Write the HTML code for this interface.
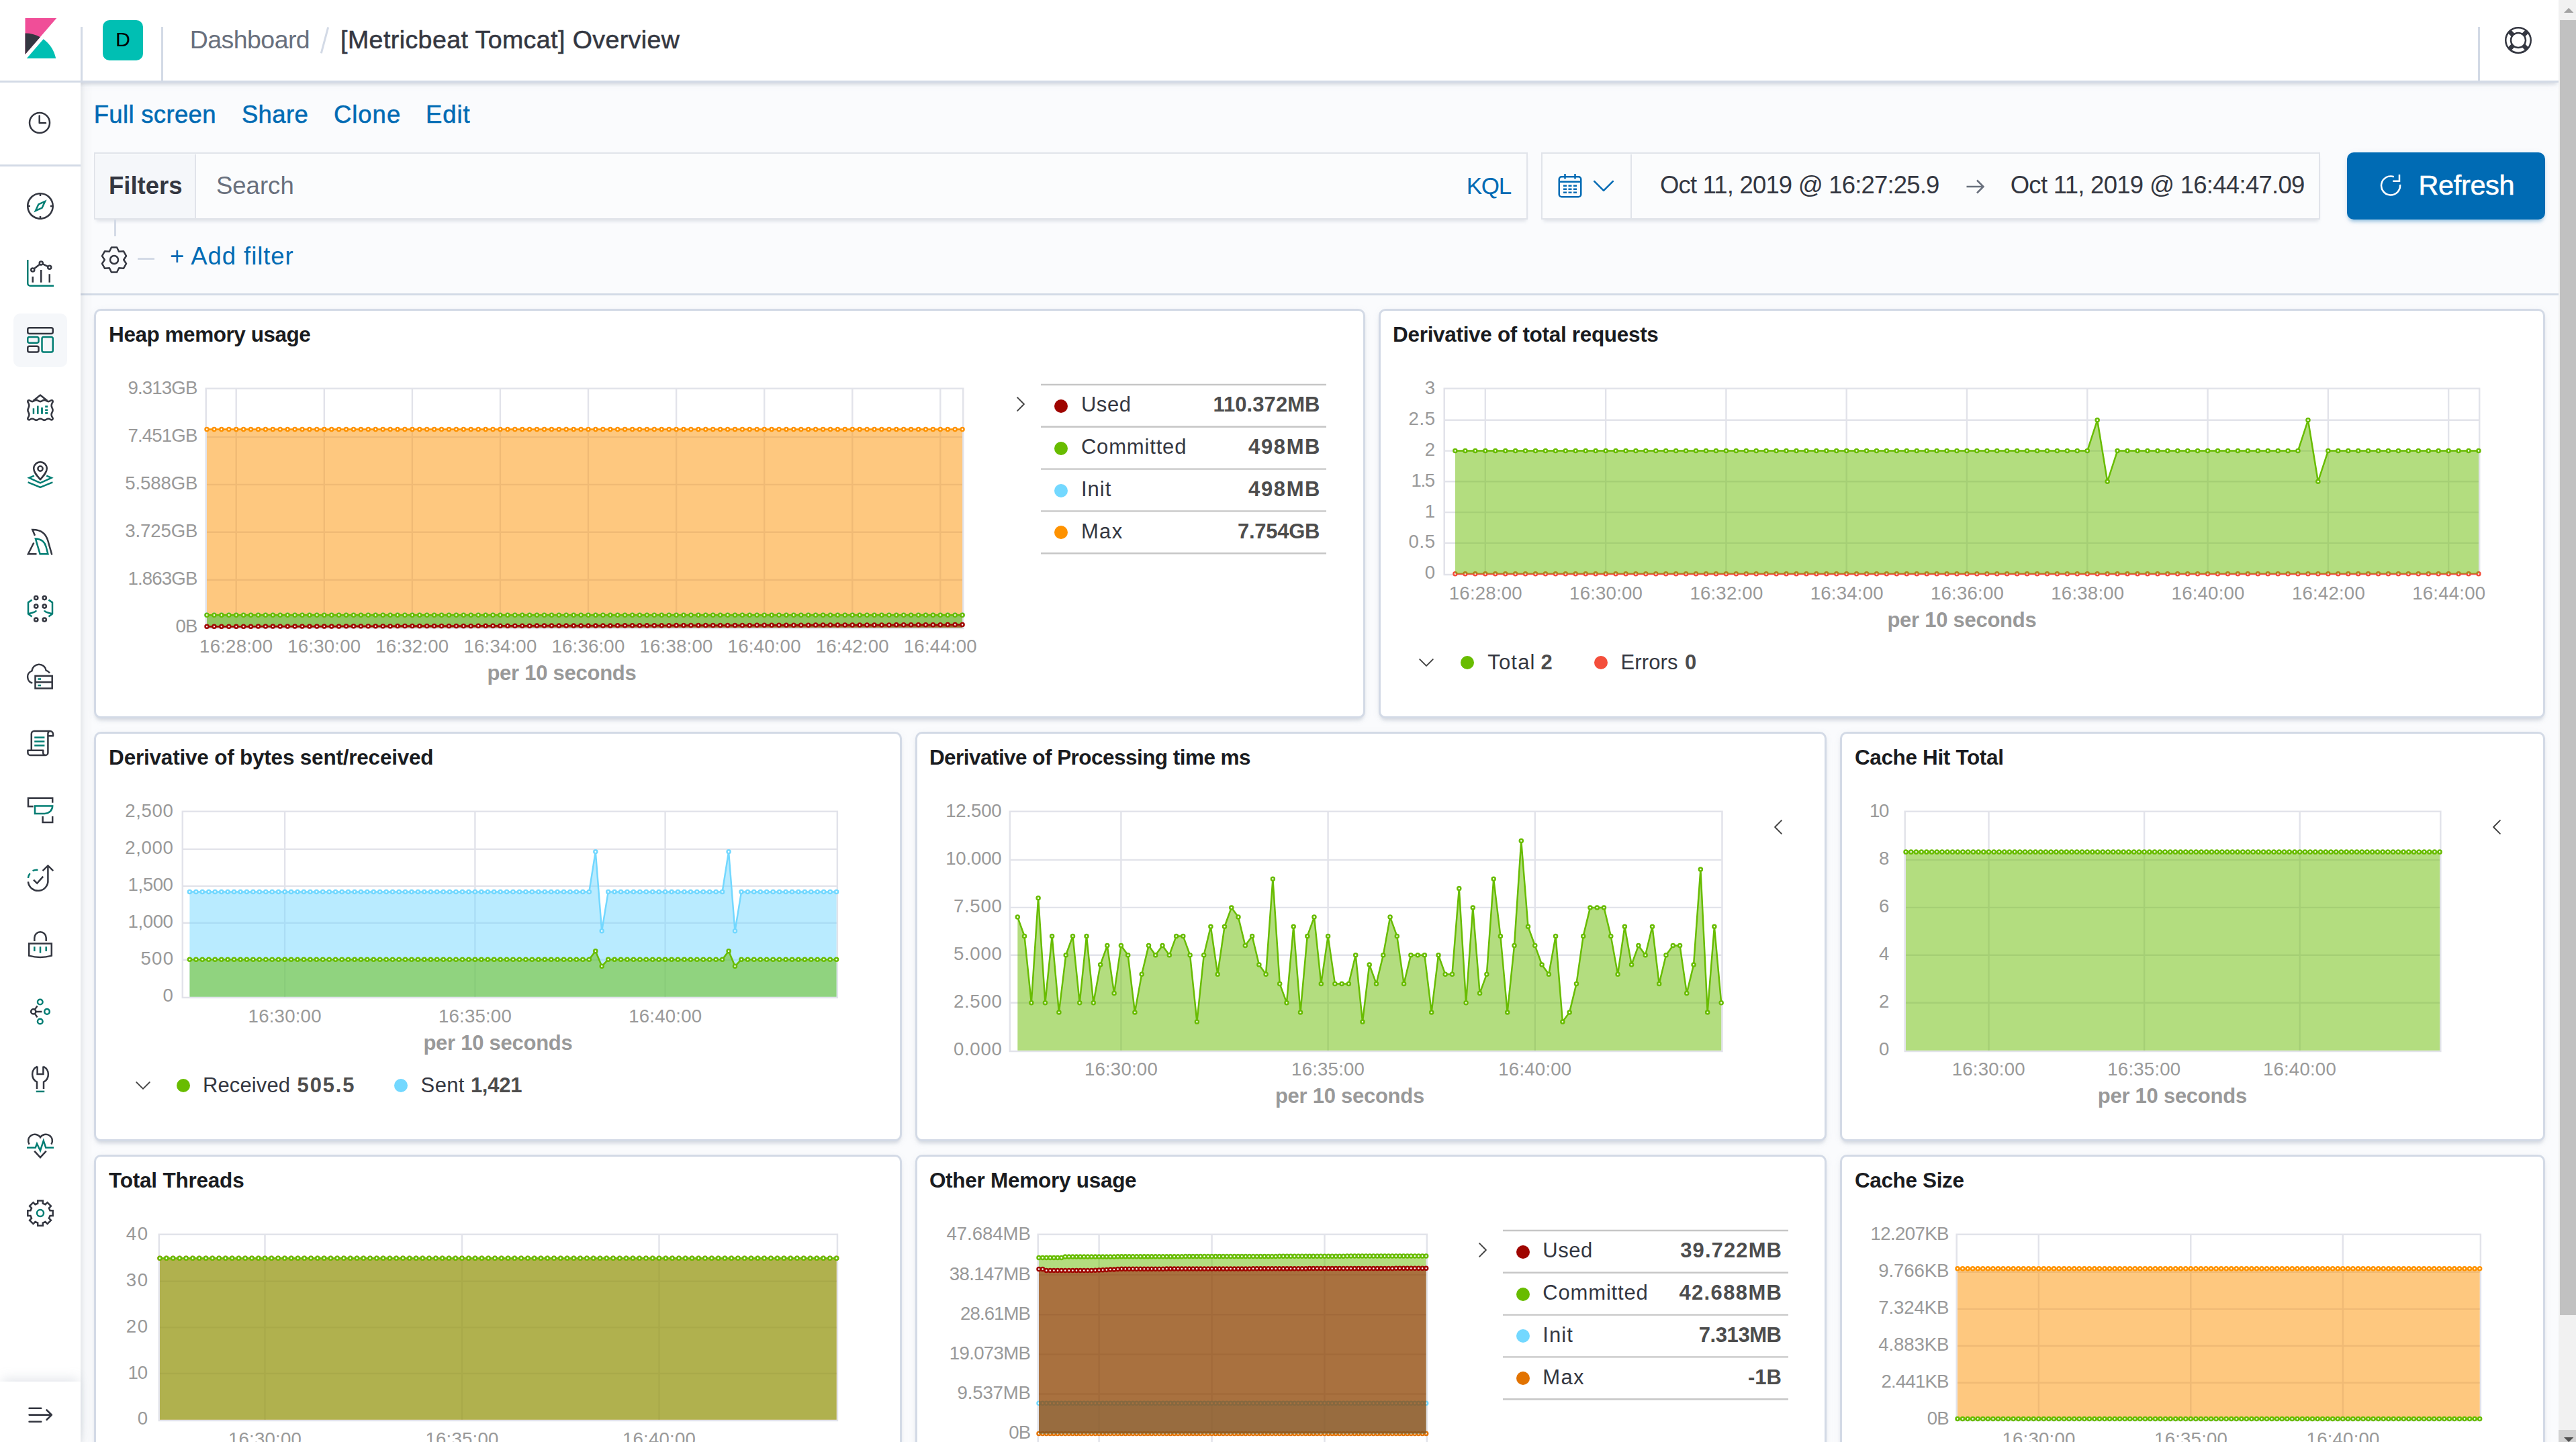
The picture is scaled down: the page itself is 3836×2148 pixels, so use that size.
<!DOCTYPE html><html lang="en"><head><meta charset="utf-8"><title>[Metricbeat Tomcat] Overview - Kibana</title><style>
html,body{margin:0;padding:0}
body{width:3836px;height:2148px;overflow:hidden;background:#fafbfd;font-family:"Liberation Sans",sans-serif;position:relative;color:#343741}
.t{position:absolute;white-space:nowrap;line-height:1;display:block}
.ch{position:absolute;overflow:visible}
.ab{position:absolute;box-sizing:border-box}
.panel{position:absolute;box-sizing:border-box;background:#fff;border:3px solid #d3dae6;border-radius:10px;box-shadow:0 5px 5px -2.5px rgba(152,162,179,.3),0 2.5px 12.5px -5px rgba(152,162,179,.3)}
.hl{position:absolute;background:#c8c8c8;height:2.2px}
.dot{position:absolute;width:20px;height:20px;border-radius:50%}
svg{display:block}
</style></head><body>
<main>
<section class="panel" style="left:140px;top:460px;width:1892.6px;height:610.0px">
<span class="t" style="left:19.1px;top:20.0px;font-size:31.5px;color:#1a1c21;font-weight:700;letter-spacing:-0.46px;">Heap memory usage</span>
<svg class="ch" style="left:156.9px;top:108.7px" width="1141.1" height="370.7" viewBox="299.9 571.7 1141.1 370.7"><defs><marker id="c1m0" markerWidth="10" markerHeight="10" refX="5" refY="5" markerUnits="userSpaceOnUse"><circle cx="5" cy="5" r="2.5" fill="#fff" stroke="#FE9200" stroke-width="2.5"/></marker><marker id="c1m1" markerWidth="10" markerHeight="10" refX="5" refY="5" markerUnits="userSpaceOnUse"><circle cx="5" cy="5" r="2.5" fill="#fff" stroke="#73D8FF" stroke-width="2.5"/></marker><marker id="c1m2" markerWidth="10" markerHeight="10" refX="5" refY="5" markerUnits="userSpaceOnUse"><circle cx="5" cy="5" r="2.5" fill="#fff" stroke="#68BC00" stroke-width="2.5"/></marker><marker id="c1m3" markerWidth="10" markerHeight="10" refX="5" refY="5" markerUnits="userSpaceOnUse"><circle cx="5" cy="5" r="2.5" fill="#fff" stroke="#9F0500" stroke-width="2.5"/></marker></defs><path d="M351.6 578.5V935.6M482.7 578.5V935.6M613.8 578.5V935.6M744.8 578.5V935.6M875.9 578.5V935.6M1007.0 578.5V935.6M1138.1 578.5V935.6M1269.2 578.5V935.6M1400.2 578.5V935.6M306.6 863.4H1434.2M306.6 792.5H1434.2M306.6 721.6H1434.2M306.6 650.6H1434.2" stroke="#e2e3ea" stroke-width="2.4" fill="none"/><rect x="306.6" y="578.5" width="1127.6" height="357.2" fill="none" stroke="#e2e3ea" stroke-width="2.5"/><polygon points="307.9,934.4 307.9,639.1 318.8,639.1 329.7,639.1 340.7,639.1 351.6,639.1 362.5,639.1 373.4,639.1 384.4,639.1 395.3,639.1 406.2,639.1 417.1,639.1 428.1,639.1 439.0,639.1 449.9,639.1 460.8,639.1 471.7,639.1 482.7,639.1 493.6,639.1 504.5,639.1 515.4,639.1 526.4,639.1 537.3,639.1 548.2,639.1 559.1,639.1 570.1,639.1 581.0,639.1 591.9,639.1 602.8,639.1 613.8,639.1 624.7,639.1 635.6,639.1 646.5,639.1 657.4,639.1 668.4,639.1 679.3,639.1 690.2,639.1 701.1,639.1 712.1,639.1 723.0,639.1 733.9,639.1 744.8,639.1 755.8,639.1 766.7,639.1 777.6,639.1 788.5,639.1 799.4,639.1 810.4,639.1 821.3,639.1 832.2,639.1 843.1,639.1 854.1,639.1 865.0,639.1 875.9,639.1 886.8,639.1 897.8,639.1 908.7,639.1 919.6,639.1 930.5,639.1 941.5,639.1 952.4,639.1 963.3,639.1 974.2,639.1 985.1,639.1 996.1,639.1 1007.0,639.1 1017.9,639.1 1028.8,639.1 1039.8,639.1 1050.7,639.1 1061.6,639.1 1072.5,639.1 1083.5,639.1 1094.4,639.1 1105.3,639.1 1116.2,639.1 1127.1,639.1 1138.1,639.1 1149.0,639.1 1159.9,639.1 1170.8,639.1 1181.8,639.1 1192.7,639.1 1203.6,639.1 1214.5,639.1 1225.5,639.1 1236.4,639.1 1247.3,639.1 1258.2,639.1 1269.2,639.1 1280.1,639.1 1291.0,639.1 1301.9,639.1 1312.8,639.1 1323.8,639.1 1334.7,639.1 1345.6,639.1 1356.5,639.1 1367.5,639.1 1378.4,639.1 1389.3,639.1 1400.2,639.1 1411.2,639.1 1422.1,639.1 1433.0,639.1 1433.0,934.4" fill="#FE9200" fill-opacity="0.5"/><polyline points="307.9,639.1 318.8,639.1 329.7,639.1 340.7,639.1 351.6,639.1 362.5,639.1 373.4,639.1 384.4,639.1 395.3,639.1 406.2,639.1 417.1,639.1 428.1,639.1 439.0,639.1 449.9,639.1 460.8,639.1 471.7,639.1 482.7,639.1 493.6,639.1 504.5,639.1 515.4,639.1 526.4,639.1 537.3,639.1 548.2,639.1 559.1,639.1 570.1,639.1 581.0,639.1 591.9,639.1 602.8,639.1 613.8,639.1 624.7,639.1 635.6,639.1 646.5,639.1 657.4,639.1 668.4,639.1 679.3,639.1 690.2,639.1 701.1,639.1 712.1,639.1 723.0,639.1 733.9,639.1 744.8,639.1 755.8,639.1 766.7,639.1 777.6,639.1 788.5,639.1 799.4,639.1 810.4,639.1 821.3,639.1 832.2,639.1 843.1,639.1 854.1,639.1 865.0,639.1 875.9,639.1 886.8,639.1 897.8,639.1 908.7,639.1 919.6,639.1 930.5,639.1 941.5,639.1 952.4,639.1 963.3,639.1 974.2,639.1 985.1,639.1 996.1,639.1 1007.0,639.1 1017.9,639.1 1028.8,639.1 1039.8,639.1 1050.7,639.1 1061.6,639.1 1072.5,639.1 1083.5,639.1 1094.4,639.1 1105.3,639.1 1116.2,639.1 1127.1,639.1 1138.1,639.1 1149.0,639.1 1159.9,639.1 1170.8,639.1 1181.8,639.1 1192.7,639.1 1203.6,639.1 1214.5,639.1 1225.5,639.1 1236.4,639.1 1247.3,639.1 1258.2,639.1 1269.2,639.1 1280.1,639.1 1291.0,639.1 1301.9,639.1 1312.8,639.1 1323.8,639.1 1334.7,639.1 1345.6,639.1 1356.5,639.1 1367.5,639.1 1378.4,639.1 1389.3,639.1 1400.2,639.1 1411.2,639.1 1422.1,639.1 1433.0,639.1" fill="none" stroke="#FE9200" stroke-width="2.5" stroke-linejoin="round" marker-start="url(#c1m0)" marker-mid="url(#c1m0)" marker-end="url(#c1m0)"/><polygon points="307.9,934.4 307.9,915.9 318.8,915.9 329.7,915.9 340.7,915.9 351.6,915.9 362.5,915.9 373.4,915.9 384.4,915.9 395.3,915.9 406.2,915.9 417.1,915.9 428.1,915.9 439.0,915.9 449.9,915.9 460.8,915.9 471.7,915.9 482.7,915.9 493.6,915.9 504.5,915.9 515.4,915.9 526.4,915.9 537.3,915.9 548.2,915.9 559.1,915.9 570.1,915.9 581.0,915.9 591.9,915.9 602.8,915.9 613.8,915.9 624.7,915.9 635.6,915.9 646.5,915.9 657.4,915.9 668.4,915.9 679.3,915.9 690.2,915.9 701.1,915.9 712.1,915.9 723.0,915.9 733.9,915.9 744.8,915.9 755.8,915.9 766.7,915.9 777.6,915.9 788.5,915.9 799.4,915.9 810.4,915.9 821.3,915.9 832.2,915.9 843.1,915.9 854.1,915.9 865.0,915.9 875.9,915.9 886.8,915.9 897.8,915.9 908.7,915.9 919.6,915.9 930.5,915.9 941.5,915.9 952.4,915.9 963.3,915.9 974.2,915.9 985.1,915.9 996.1,915.9 1007.0,915.9 1017.9,915.9 1028.8,915.9 1039.8,915.9 1050.7,915.9 1061.6,915.9 1072.5,915.9 1083.5,915.9 1094.4,915.9 1105.3,915.9 1116.2,915.9 1127.1,915.9 1138.1,915.9 1149.0,915.9 1159.9,915.9 1170.8,915.9 1181.8,915.9 1192.7,915.9 1203.6,915.9 1214.5,915.9 1225.5,915.9 1236.4,915.9 1247.3,915.9 1258.2,915.9 1269.2,915.9 1280.1,915.9 1291.0,915.9 1301.9,915.9 1312.8,915.9 1323.8,915.9 1334.7,915.9 1345.6,915.9 1356.5,915.9 1367.5,915.9 1378.4,915.9 1389.3,915.9 1400.2,915.9 1411.2,915.9 1422.1,915.9 1433.0,915.9 1433.0,934.4" fill="#73D8FF" fill-opacity="0.5"/><polyline points="307.9,915.9 318.8,915.9 329.7,915.9 340.7,915.9 351.6,915.9 362.5,915.9 373.4,915.9 384.4,915.9 395.3,915.9 406.2,915.9 417.1,915.9 428.1,915.9 439.0,915.9 449.9,915.9 460.8,915.9 471.7,915.9 482.7,915.9 493.6,915.9 504.5,915.9 515.4,915.9 526.4,915.9 537.3,915.9 548.2,915.9 559.1,915.9 570.1,915.9 581.0,915.9 591.9,915.9 602.8,915.9 613.8,915.9 624.7,915.9 635.6,915.9 646.5,915.9 657.4,915.9 668.4,915.9 679.3,915.9 690.2,915.9 701.1,915.9 712.1,915.9 723.0,915.9 733.9,915.9 744.8,915.9 755.8,915.9 766.7,915.9 777.6,915.9 788.5,915.9 799.4,915.9 810.4,915.9 821.3,915.9 832.2,915.9 843.1,915.9 854.1,915.9 865.0,915.9 875.9,915.9 886.8,915.9 897.8,915.9 908.7,915.9 919.6,915.9 930.5,915.9 941.5,915.9 952.4,915.9 963.3,915.9 974.2,915.9 985.1,915.9 996.1,915.9 1007.0,915.9 1017.9,915.9 1028.8,915.9 1039.8,915.9 1050.7,915.9 1061.6,915.9 1072.5,915.9 1083.5,915.9 1094.4,915.9 1105.3,915.9 1116.2,915.9 1127.1,915.9 1138.1,915.9 1149.0,915.9 1159.9,915.9 1170.8,915.9 1181.8,915.9 1192.7,915.9 1203.6,915.9 1214.5,915.9 1225.5,915.9 1236.4,915.9 1247.3,915.9 1258.2,915.9 1269.2,915.9 1280.1,915.9 1291.0,915.9 1301.9,915.9 1312.8,915.9 1323.8,915.9 1334.7,915.9 1345.6,915.9 1356.5,915.9 1367.5,915.9 1378.4,915.9 1389.3,915.9 1400.2,915.9 1411.2,915.9 1422.1,915.9 1433.0,915.9" fill="none" stroke="#73D8FF" stroke-width="2.5" stroke-linejoin="round" marker-start="url(#c1m1)" marker-mid="url(#c1m1)" marker-end="url(#c1m1)"/><polygon points="307.9,934.4 307.9,915.9 318.8,915.9 329.7,915.9 340.7,915.9 351.6,915.9 362.5,915.9 373.4,915.9 384.4,915.9 395.3,915.9 406.2,915.9 417.1,915.9 428.1,915.9 439.0,915.9 449.9,915.9 460.8,915.9 471.7,915.9 482.7,915.9 493.6,915.9 504.5,915.9 515.4,915.9 526.4,915.9 537.3,915.9 548.2,915.9 559.1,915.9 570.1,915.9 581.0,915.9 591.9,915.9 602.8,915.9 613.8,915.9 624.7,915.9 635.6,915.9 646.5,915.9 657.4,915.9 668.4,915.9 679.3,915.9 690.2,915.9 701.1,915.9 712.1,915.9 723.0,915.9 733.9,915.9 744.8,915.9 755.8,915.9 766.7,915.9 777.6,915.9 788.5,915.9 799.4,915.9 810.4,915.9 821.3,915.9 832.2,915.9 843.1,915.9 854.1,915.9 865.0,915.9 875.9,915.9 886.8,915.9 897.8,915.9 908.7,915.9 919.6,915.9 930.5,915.9 941.5,915.9 952.4,915.9 963.3,915.9 974.2,915.9 985.1,915.9 996.1,915.9 1007.0,915.9 1017.9,915.9 1028.8,915.9 1039.8,915.9 1050.7,915.9 1061.6,915.9 1072.5,915.9 1083.5,915.9 1094.4,915.9 1105.3,915.9 1116.2,915.9 1127.1,915.9 1138.1,915.9 1149.0,915.9 1159.9,915.9 1170.8,915.9 1181.8,915.9 1192.7,915.9 1203.6,915.9 1214.5,915.9 1225.5,915.9 1236.4,915.9 1247.3,915.9 1258.2,915.9 1269.2,915.9 1280.1,915.9 1291.0,915.9 1301.9,915.9 1312.8,915.9 1323.8,915.9 1334.7,915.9 1345.6,915.9 1356.5,915.9 1367.5,915.9 1378.4,915.9 1389.3,915.9 1400.2,915.9 1411.2,915.9 1422.1,915.9 1433.0,915.9 1433.0,934.4" fill="#68BC00" fill-opacity="0.5"/><polyline points="307.9,915.9 318.8,915.9 329.7,915.9 340.7,915.9 351.6,915.9 362.5,915.9 373.4,915.9 384.4,915.9 395.3,915.9 406.2,915.9 417.1,915.9 428.1,915.9 439.0,915.9 449.9,915.9 460.8,915.9 471.7,915.9 482.7,915.9 493.6,915.9 504.5,915.9 515.4,915.9 526.4,915.9 537.3,915.9 548.2,915.9 559.1,915.9 570.1,915.9 581.0,915.9 591.9,915.9 602.8,915.9 613.8,915.9 624.7,915.9 635.6,915.9 646.5,915.9 657.4,915.9 668.4,915.9 679.3,915.9 690.2,915.9 701.1,915.9 712.1,915.9 723.0,915.9 733.9,915.9 744.8,915.9 755.8,915.9 766.7,915.9 777.6,915.9 788.5,915.9 799.4,915.9 810.4,915.9 821.3,915.9 832.2,915.9 843.1,915.9 854.1,915.9 865.0,915.9 875.9,915.9 886.8,915.9 897.8,915.9 908.7,915.9 919.6,915.9 930.5,915.9 941.5,915.9 952.4,915.9 963.3,915.9 974.2,915.9 985.1,915.9 996.1,915.9 1007.0,915.9 1017.9,915.9 1028.8,915.9 1039.8,915.9 1050.7,915.9 1061.6,915.9 1072.5,915.9 1083.5,915.9 1094.4,915.9 1105.3,915.9 1116.2,915.9 1127.1,915.9 1138.1,915.9 1149.0,915.9 1159.9,915.9 1170.8,915.9 1181.8,915.9 1192.7,915.9 1203.6,915.9 1214.5,915.9 1225.5,915.9 1236.4,915.9 1247.3,915.9 1258.2,915.9 1269.2,915.9 1280.1,915.9 1291.0,915.9 1301.9,915.9 1312.8,915.9 1323.8,915.9 1334.7,915.9 1345.6,915.9 1356.5,915.9 1367.5,915.9 1378.4,915.9 1389.3,915.9 1400.2,915.9 1411.2,915.9 1422.1,915.9 1433.0,915.9" fill="none" stroke="#68BC00" stroke-width="2.5" stroke-linejoin="round" marker-start="url(#c1m2)" marker-mid="url(#c1m2)" marker-end="url(#c1m2)"/><polygon points="307.9,934.4 307.9,933.0 318.8,933.0 329.7,933.0 340.7,932.9 351.6,932.9 362.5,932.9 373.4,932.9 384.4,932.8 395.3,932.8 406.2,932.8 417.1,932.8 428.1,932.7 439.0,932.7 449.9,932.7 460.8,932.7 471.7,932.6 482.7,932.6 493.6,932.6 504.5,932.6 515.4,932.5 526.4,932.5 537.3,932.5 548.2,932.4 559.1,932.4 570.1,932.4 581.0,932.4 591.9,932.3 602.8,932.3 613.8,932.3 624.7,932.3 635.6,932.2 646.5,932.2 657.4,932.2 668.4,932.2 679.3,932.1 690.2,932.1 701.1,932.1 712.1,932.0 723.0,932.0 733.9,932.0 744.8,932.0 755.8,931.9 766.7,931.9 777.6,931.9 788.5,931.9 799.4,931.8 810.4,931.8 821.3,931.8 832.2,931.8 843.1,931.7 854.1,931.7 865.0,931.7 875.9,931.6 886.8,931.6 897.8,931.6 908.7,931.6 919.6,931.5 930.5,931.5 941.5,931.5 952.4,931.5 963.3,931.4 974.2,931.4 985.1,931.4 996.1,931.4 1007.0,931.3 1017.9,931.3 1028.8,931.3 1039.8,931.3 1050.7,931.2 1061.6,931.2 1072.5,931.2 1083.5,931.1 1094.4,931.1 1105.3,931.1 1116.2,931.1 1127.1,931.0 1138.1,931.0 1149.0,931.0 1159.9,931.0 1170.8,930.9 1181.8,930.9 1192.7,930.9 1203.6,930.9 1214.5,930.8 1225.5,930.8 1236.4,930.8 1247.3,930.7 1258.2,930.7 1269.2,930.7 1280.1,930.7 1291.0,930.6 1301.9,930.6 1312.8,930.6 1323.8,930.6 1334.7,930.5 1345.6,930.5 1356.5,930.5 1367.5,930.5 1378.4,930.4 1389.3,930.4 1400.2,930.4 1411.2,930.3 1422.1,930.3 1433.0,930.3 1433.0,934.4" fill="#9F0500" fill-opacity="0.5"/><polyline points="307.9,933.0 318.8,933.0 329.7,933.0 340.7,932.9 351.6,932.9 362.5,932.9 373.4,932.9 384.4,932.8 395.3,932.8 406.2,932.8 417.1,932.8 428.1,932.7 439.0,932.7 449.9,932.7 460.8,932.7 471.7,932.6 482.7,932.6 493.6,932.6 504.5,932.6 515.4,932.5 526.4,932.5 537.3,932.5 548.2,932.4 559.1,932.4 570.1,932.4 581.0,932.4 591.9,932.3 602.8,932.3 613.8,932.3 624.7,932.3 635.6,932.2 646.5,932.2 657.4,932.2 668.4,932.2 679.3,932.1 690.2,932.1 701.1,932.1 712.1,932.0 723.0,932.0 733.9,932.0 744.8,932.0 755.8,931.9 766.7,931.9 777.6,931.9 788.5,931.9 799.4,931.8 810.4,931.8 821.3,931.8 832.2,931.8 843.1,931.7 854.1,931.7 865.0,931.7 875.9,931.6 886.8,931.6 897.8,931.6 908.7,931.6 919.6,931.5 930.5,931.5 941.5,931.5 952.4,931.5 963.3,931.4 974.2,931.4 985.1,931.4 996.1,931.4 1007.0,931.3 1017.9,931.3 1028.8,931.3 1039.8,931.3 1050.7,931.2 1061.6,931.2 1072.5,931.2 1083.5,931.1 1094.4,931.1 1105.3,931.1 1116.2,931.1 1127.1,931.0 1138.1,931.0 1149.0,931.0 1159.9,931.0 1170.8,930.9 1181.8,930.9 1192.7,930.9 1203.6,930.9 1214.5,930.8 1225.5,930.8 1236.4,930.8 1247.3,930.7 1258.2,930.7 1269.2,930.7 1280.1,930.7 1291.0,930.6 1301.9,930.6 1312.8,930.6 1323.8,930.6 1334.7,930.5 1345.6,930.5 1356.5,930.5 1367.5,930.5 1378.4,930.4 1389.3,930.4 1400.2,930.4 1411.2,930.3 1422.1,930.3 1433.0,930.3" fill="none" stroke="#9F0500" stroke-width="2.5" stroke-linejoin="round" marker-start="url(#c1m3)" marker-mid="url(#c1m3)" marker-end="url(#c1m3)"/></svg>
<span class="t" style="left:118.5px;top:456.1px;font-size:27.6px;color:#999;letter-spacing:-0.88px;">0B</span>
<span class="t" style="left:47.6px;top:385.2px;font-size:27.6px;color:#999;letter-spacing:-0.87px;">1.863GB</span>
<span class="t" style="left:43.3px;top:314.3px;font-size:27.6px;color:#999;letter-spacing:-0.14px;">3.725GB</span>
<span class="t" style="left:43.3px;top:243.3px;font-size:27.6px;color:#999;letter-spacing:-0.14px;">5.588GB</span>
<span class="t" style="left:47.6px;top:172.4px;font-size:27.6px;color:#999;letter-spacing:-0.87px;">7.451GB</span>
<span class="t" style="left:47.6px;top:101.4px;font-size:27.6px;color:#999;letter-spacing:-0.87px;">9.313GB</span>
<span class="t" style="left:154.1px;top:486.3px;font-size:27.6px;color:#999;letter-spacing:0.21px;">16:28:00</span>
<span class="t" style="left:285.2px;top:486.3px;font-size:27.6px;color:#999;letter-spacing:0.21px;">16:30:00</span>
<span class="t" style="left:416.3px;top:486.3px;font-size:27.6px;color:#999;letter-spacing:0.21px;">16:32:00</span>
<span class="t" style="left:547.4px;top:486.3px;font-size:27.6px;color:#999;letter-spacing:0.21px;">16:34:00</span>
<span class="t" style="left:678.4px;top:486.3px;font-size:27.6px;color:#999;letter-spacing:0.21px;">16:36:00</span>
<span class="t" style="left:809.5px;top:486.3px;font-size:27.6px;color:#999;letter-spacing:0.21px;">16:38:00</span>
<span class="t" style="left:940.6px;top:486.3px;font-size:27.6px;color:#999;letter-spacing:0.21px;">16:40:00</span>
<span class="t" style="left:1071.7px;top:486.3px;font-size:27.6px;color:#999;letter-spacing:0.21px;">16:42:00</span>
<span class="t" style="left:1202.8px;top:486.3px;font-size:27.6px;color:#999;letter-spacing:0.21px;">16:44:00</span>
<span class="t" style="left:582.4px;top:524.0px;font-size:31px;color:#999;font-weight:700;letter-spacing:-0.26px;">per 10 seconds</span>
<svg class="ch" style="left:1357.0px;top:119.0px" width="40" height="40" viewBox="-20 -20 40 40"><path d="M-4.9 -9.8L4.9 0L-4.9 9.8" fill="none" stroke="#414141" stroke-width="1.9" stroke-linecap="round" stroke-linejoin="round"/></svg>
<svg class="ch" style="left:1407.0px;top:105.9px" width="425.0" height="259.2" viewBox="1550.0 568.9 425.0 259.2"><path d="M1550.0 572.9H1975.0M1550.0 635.7H1975.0M1550.0 698.5H1975.0M1550.0 761.3H1975.0M1550.0 824.1H1975.0" stroke="#c6c6c6" stroke-width="2.4" fill="none"/></svg>
<div class="dot" style="left:1427.0px;top:131.9px;background:#9F0500"></div>
<span class="t" style="left:1466.9px;top:124.3px;font-size:31px;color:#343741;letter-spacing:0.57px;">Used</span>
<span class="t" style="left:1663.4px;top:124.3px;font-size:31px;color:#4d4d4d;font-weight:700;letter-spacing:0.07px;">110.372MB</span>
<div class="dot" style="left:1427.0px;top:194.7px;background:#68BC00"></div>
<span class="t" style="left:1466.9px;top:187.1px;font-size:31px;color:#343741;letter-spacing:0.83px;">Committed</span>
<span class="t" style="left:1716.1px;top:187.1px;font-size:31px;color:#4d4d4d;font-weight:700;letter-spacing:1.61px;">498MB</span>
<div class="dot" style="left:1427.0px;top:257.5px;background:#73D8FF"></div>
<span class="t" style="left:1466.9px;top:249.9px;font-size:31px;color:#343741;letter-spacing:1.04px;">Init</span>
<span class="t" style="left:1716.1px;top:249.9px;font-size:31px;color:#4d4d4d;font-weight:700;letter-spacing:1.61px;">498MB</span>
<div class="dot" style="left:1427.0px;top:320.3px;background:#FE9200"></div>
<span class="t" style="left:1466.9px;top:312.7px;font-size:31px;color:#343741;letter-spacing:1.36px;">Max</span>
<span class="t" style="left:1699.9px;top:312.7px;font-size:31px;color:#4d4d4d;font-weight:700;letter-spacing:-0.25px;">7.754GB</span>
</section>
<section class="panel" style="left:2053.2px;top:460px;width:1737.3px;height:610.0px">
<span class="t" style="left:17.9px;top:20.0px;font-size:31.5px;color:#1a1c21;font-weight:700;letter-spacing:-0.32px;">Derivative of total requests</span>
<svg class="ch" style="left:88.3px;top:108.7px" width="1555.0" height="290.7" viewBox="2144.5 571.7 1555.0 290.7"><defs><marker id="c2m0" markerWidth="10" markerHeight="10" refX="5" refY="5" markerUnits="userSpaceOnUse"><circle cx="5" cy="5" r="2.5" fill="#fff" stroke="#F44E3B" stroke-width="2.5"/></marker><marker id="c2m1" markerWidth="10" markerHeight="10" refX="5" refY="5" markerUnits="userSpaceOnUse"><circle cx="5" cy="5" r="2.5" fill="#fff" stroke="#68BC00" stroke-width="2.5"/></marker></defs><path d="M2212.3 578.5V855.6M2391.6 578.5V855.6M2570.9 578.5V855.6M2750.2 578.5V855.6M2929.5 578.5V855.6M3108.8 578.5V855.6M3288.1 578.5V855.6M3467.4 578.5V855.6M3646.7 578.5V855.6M2151.2 808.6H3692.8M2151.2 762.8H3692.8M2151.2 717.0H3692.8M2151.2 671.3H3692.8M2151.2 625.5H3692.8" stroke="#e2e3ea" stroke-width="2.4" fill="none"/><rect x="2151.2" y="578.5" width="1541.5" height="277.2" fill="none" stroke="#e2e3ea" stroke-width="2.5"/><polygon points="2167.4,854.4 2167.4,854.4 2182.4,854.4 2197.3,854.4 2212.3,854.4 2227.2,854.4 2242.2,854.4 2257.1,854.4 2272.0,854.4 2287.0,854.4 2301.9,854.4 2316.9,854.4 2331.8,854.4 2346.7,854.4 2361.7,854.4 2376.6,854.4 2391.6,854.4 2406.5,854.4 2421.5,854.4 2436.4,854.4 2451.3,854.4 2466.3,854.4 2481.2,854.4 2496.2,854.4 2511.1,854.4 2526.0,854.4 2541.0,854.4 2555.9,854.4 2570.9,854.4 2585.8,854.4 2600.8,854.4 2615.7,854.4 2630.6,854.4 2645.6,854.4 2660.5,854.4 2675.5,854.4 2690.4,854.4 2705.3,854.4 2720.3,854.4 2735.2,854.4 2750.2,854.4 2765.1,854.4 2780.1,854.4 2795.0,854.4 2809.9,854.4 2824.9,854.4 2839.8,854.4 2854.8,854.4 2869.7,854.4 2884.6,854.4 2899.6,854.4 2914.5,854.4 2929.5,854.4 2944.4,854.4 2959.4,854.4 2974.3,854.4 2989.2,854.4 3004.2,854.4 3019.1,854.4 3034.1,854.4 3049.0,854.4 3063.9,854.4 3078.9,854.4 3093.8,854.4 3108.8,854.4 3123.7,854.4 3138.7,854.4 3153.6,854.4 3168.5,854.4 3183.5,854.4 3198.4,854.4 3213.4,854.4 3228.3,854.4 3243.2,854.4 3258.2,854.4 3273.1,854.4 3288.1,854.4 3303.0,854.4 3318.0,854.4 3332.9,854.4 3347.8,854.4 3362.8,854.4 3377.7,854.4 3392.7,854.4 3407.6,854.4 3422.5,854.4 3437.5,854.4 3452.4,854.4 3467.4,854.4 3482.3,854.4 3497.3,854.4 3512.2,854.4 3527.1,854.4 3542.1,854.4 3557.0,854.4 3572.0,854.4 3586.9,854.4 3601.8,854.4 3616.8,854.4 3631.7,854.4 3646.7,854.4 3661.6,854.4 3676.6,854.4 3691.5,854.4 3691.5,854.4" fill="#F44E3B" fill-opacity="0.5"/><polyline points="2167.4,854.4 2182.4,854.4 2197.3,854.4 2212.3,854.4 2227.2,854.4 2242.2,854.4 2257.1,854.4 2272.0,854.4 2287.0,854.4 2301.9,854.4 2316.9,854.4 2331.8,854.4 2346.7,854.4 2361.7,854.4 2376.6,854.4 2391.6,854.4 2406.5,854.4 2421.5,854.4 2436.4,854.4 2451.3,854.4 2466.3,854.4 2481.2,854.4 2496.2,854.4 2511.1,854.4 2526.0,854.4 2541.0,854.4 2555.9,854.4 2570.9,854.4 2585.8,854.4 2600.8,854.4 2615.7,854.4 2630.6,854.4 2645.6,854.4 2660.5,854.4 2675.5,854.4 2690.4,854.4 2705.3,854.4 2720.3,854.4 2735.2,854.4 2750.2,854.4 2765.1,854.4 2780.1,854.4 2795.0,854.4 2809.9,854.4 2824.9,854.4 2839.8,854.4 2854.8,854.4 2869.7,854.4 2884.6,854.4 2899.6,854.4 2914.5,854.4 2929.5,854.4 2944.4,854.4 2959.4,854.4 2974.3,854.4 2989.2,854.4 3004.2,854.4 3019.1,854.4 3034.1,854.4 3049.0,854.4 3063.9,854.4 3078.9,854.4 3093.8,854.4 3108.8,854.4 3123.7,854.4 3138.7,854.4 3153.6,854.4 3168.5,854.4 3183.5,854.4 3198.4,854.4 3213.4,854.4 3228.3,854.4 3243.2,854.4 3258.2,854.4 3273.1,854.4 3288.1,854.4 3303.0,854.4 3318.0,854.4 3332.9,854.4 3347.8,854.4 3362.8,854.4 3377.7,854.4 3392.7,854.4 3407.6,854.4 3422.5,854.4 3437.5,854.4 3452.4,854.4 3467.4,854.4 3482.3,854.4 3497.3,854.4 3512.2,854.4 3527.1,854.4 3542.1,854.4 3557.0,854.4 3572.0,854.4 3586.9,854.4 3601.8,854.4 3616.8,854.4 3631.7,854.4 3646.7,854.4 3661.6,854.4 3676.6,854.4 3691.5,854.4" fill="none" stroke="#F44E3B" stroke-width="2.5" stroke-linejoin="round" marker-start="url(#c2m0)" marker-mid="url(#c2m0)" marker-end="url(#c2m0)"/><polygon points="2167.4,854.4 2167.4,671.3 2182.4,671.3 2197.3,671.3 2212.3,671.3 2227.2,671.3 2242.2,671.3 2257.1,671.3 2272.0,671.3 2287.0,671.3 2301.9,671.3 2316.9,671.3 2331.8,671.3 2346.7,671.3 2361.7,671.3 2376.6,671.3 2391.6,671.3 2406.5,671.3 2421.5,671.3 2436.4,671.3 2451.3,671.3 2466.3,671.3 2481.2,671.3 2496.2,671.3 2511.1,671.3 2526.0,671.3 2541.0,671.3 2555.9,671.3 2570.9,671.3 2585.8,671.3 2600.8,671.3 2615.7,671.3 2630.6,671.3 2645.6,671.3 2660.5,671.3 2675.5,671.3 2690.4,671.3 2705.3,671.3 2720.3,671.3 2735.2,671.3 2750.2,671.3 2765.1,671.3 2780.1,671.3 2795.0,671.3 2809.9,671.3 2824.9,671.3 2839.8,671.3 2854.8,671.3 2869.7,671.3 2884.6,671.3 2899.6,671.3 2914.5,671.3 2929.5,671.3 2944.4,671.3 2959.4,671.3 2974.3,671.3 2989.2,671.3 3004.2,671.3 3019.1,671.3 3034.1,671.3 3049.0,671.3 3063.9,671.3 3078.9,671.3 3093.8,671.3 3108.8,671.3 3123.7,625.5 3138.7,717.0 3153.6,671.3 3168.5,671.3 3183.5,671.3 3198.4,671.3 3213.4,671.3 3228.3,671.3 3243.2,671.3 3258.2,671.3 3273.1,671.3 3288.1,671.3 3303.0,671.3 3318.0,671.3 3332.9,671.3 3347.8,671.3 3362.8,671.3 3377.7,671.3 3392.7,671.3 3407.6,671.3 3422.5,671.3 3437.5,625.5 3452.4,717.0 3467.4,671.3 3482.3,671.3 3497.3,671.3 3512.2,671.3 3527.1,671.3 3542.1,671.3 3557.0,671.3 3572.0,671.3 3586.9,671.3 3601.8,671.3 3616.8,671.3 3631.7,671.3 3646.7,671.3 3661.6,671.3 3676.6,671.3 3691.5,671.3 3691.5,854.4" fill="#68BC00" fill-opacity="0.5"/><polyline points="2167.4,671.3 2182.4,671.3 2197.3,671.3 2212.3,671.3 2227.2,671.3 2242.2,671.3 2257.1,671.3 2272.0,671.3 2287.0,671.3 2301.9,671.3 2316.9,671.3 2331.8,671.3 2346.7,671.3 2361.7,671.3 2376.6,671.3 2391.6,671.3 2406.5,671.3 2421.5,671.3 2436.4,671.3 2451.3,671.3 2466.3,671.3 2481.2,671.3 2496.2,671.3 2511.1,671.3 2526.0,671.3 2541.0,671.3 2555.9,671.3 2570.9,671.3 2585.8,671.3 2600.8,671.3 2615.7,671.3 2630.6,671.3 2645.6,671.3 2660.5,671.3 2675.5,671.3 2690.4,671.3 2705.3,671.3 2720.3,671.3 2735.2,671.3 2750.2,671.3 2765.1,671.3 2780.1,671.3 2795.0,671.3 2809.9,671.3 2824.9,671.3 2839.8,671.3 2854.8,671.3 2869.7,671.3 2884.6,671.3 2899.6,671.3 2914.5,671.3 2929.5,671.3 2944.4,671.3 2959.4,671.3 2974.3,671.3 2989.2,671.3 3004.2,671.3 3019.1,671.3 3034.1,671.3 3049.0,671.3 3063.9,671.3 3078.9,671.3 3093.8,671.3 3108.8,671.3 3123.7,625.5 3138.7,717.0 3153.6,671.3 3168.5,671.3 3183.5,671.3 3198.4,671.3 3213.4,671.3 3228.3,671.3 3243.2,671.3 3258.2,671.3 3273.1,671.3 3288.1,671.3 3303.0,671.3 3318.0,671.3 3332.9,671.3 3347.8,671.3 3362.8,671.3 3377.7,671.3 3392.7,671.3 3407.6,671.3 3422.5,671.3 3437.5,625.5 3452.4,717.0 3467.4,671.3 3482.3,671.3 3497.3,671.3 3512.2,671.3 3527.1,671.3 3542.1,671.3 3557.0,671.3 3572.0,671.3 3586.9,671.3 3601.8,671.3 3616.8,671.3 3631.7,671.3 3646.7,671.3 3661.6,671.3 3676.6,671.3 3691.5,671.3" fill="none" stroke="#68BC00" stroke-width="2.5" stroke-linejoin="round" marker-start="url(#c2m1)" marker-mid="url(#c2m1)" marker-end="url(#c2m1)"/></svg>
<span class="t" style="left:65.6px;top:376.1px;font-size:27.6px;color:#999;">0</span>
<span class="t" style="left:41.4px;top:330.4px;font-size:27.6px;color:#999;letter-spacing:0.58px;">0.5</span>
<span class="t" style="left:65.6px;top:284.6px;font-size:27.6px;color:#999;">1</span>
<span class="t" style="left:45.2px;top:238.8px;font-size:27.6px;color:#999;letter-spacing:-1.30px;">1.5</span>
<span class="t" style="left:65.6px;top:193.0px;font-size:27.6px;color:#999;">2</span>
<span class="t" style="left:41.4px;top:147.2px;font-size:27.6px;color:#999;letter-spacing:0.58px;">2.5</span>
<span class="t" style="left:65.6px;top:101.4px;font-size:27.6px;color:#999;">3</span>
<span class="t" style="left:101.6px;top:407.2px;font-size:27.6px;color:#999;letter-spacing:0.21px;">16:28:00</span>
<span class="t" style="left:280.9px;top:407.2px;font-size:27.6px;color:#999;letter-spacing:0.21px;">16:30:00</span>
<span class="t" style="left:460.2px;top:407.2px;font-size:27.6px;color:#999;letter-spacing:0.21px;">16:32:00</span>
<span class="t" style="left:639.5px;top:407.2px;font-size:27.6px;color:#999;letter-spacing:0.21px;">16:34:00</span>
<span class="t" style="left:818.8px;top:407.2px;font-size:27.6px;color:#999;letter-spacing:0.21px;">16:36:00</span>
<span class="t" style="left:998.1px;top:407.2px;font-size:27.6px;color:#999;letter-spacing:0.21px;">16:38:00</span>
<span class="t" style="left:1177.4px;top:407.2px;font-size:27.6px;color:#999;letter-spacing:0.21px;">16:40:00</span>
<span class="t" style="left:1356.7px;top:407.2px;font-size:27.6px;color:#999;letter-spacing:0.21px;">16:42:00</span>
<span class="t" style="left:1536.0px;top:407.2px;font-size:27.6px;color:#999;letter-spacing:0.21px;">16:44:00</span>
<span class="t" style="left:754.2px;top:444.8px;font-size:31px;color:#999;font-weight:700;letter-spacing:-0.26px;">per 10 seconds</span>
<svg class="ch" style="left:48.3px;top:504.0px" width="40" height="40" viewBox="-20 -20 40 40"><path d="M-9.8 -4.9L0 4.9L9.8 -4.9" fill="none" stroke="#414141" stroke-width="1.9" stroke-linecap="round" stroke-linejoin="round"/></svg>
<div class="dot" style="left:118.5px;top:514.0px;background:#68BC00"></div>
<span class="t" style="left:159.0px;top:507.8px;font-size:31px;color:#343741;letter-spacing:1.20px;">Total</span>
<span class="t" style="left:238.4px;top:507.8px;font-size:31px;color:#4d4d4d;font-weight:700;">2</span>
<div class="dot" style="left:317.8px;top:514.0px;background:#F44E3B"></div>
<span class="t" style="left:357.4px;top:507.8px;font-size:31px;color:#343741;letter-spacing:0.10px;">Errors</span>
<span class="t" style="left:452.9px;top:507.8px;font-size:31px;color:#4d4d4d;font-weight:700;">0</span>
</section>
<section class="panel" style="left:140px;top:1090px;width:1203.0px;height:610.0px">
<span class="t" style="left:19.1px;top:20.0px;font-size:31.5px;color:#1a1c21;font-weight:700;letter-spacing:-0.21px;">Derivative of bytes sent/received</span>
<svg class="ch" style="left:122.0px;top:108.7px" width="988.6" height="290.7" viewBox="265.0 1201.7 988.6 290.7"><defs><marker id="c3m0" markerWidth="10" markerHeight="10" refX="5" refY="5" markerUnits="userSpaceOnUse"><circle cx="5" cy="5" r="2.5" fill="#fff" stroke="#73D8FF" stroke-width="2.5"/></marker><marker id="c3m1" markerWidth="10" markerHeight="10" refX="5" refY="5" markerUnits="userSpaceOnUse"><circle cx="5" cy="5" r="2.5" fill="#fff" stroke="#68BC00" stroke-width="2.5"/></marker></defs><path d="M424.1 1208.5V1485.7M707.4 1208.5V1485.7M990.6 1208.5V1485.7M271.8 1429.5H1246.8M271.8 1374.5H1246.8M271.8 1319.6H1246.8M271.8 1264.6H1246.8" stroke="#e2e3ea" stroke-width="2.4" fill="none"/><rect x="271.8" y="1208.5" width="975.1" height="277.2" fill="none" stroke="#e2e3ea" stroke-width="2.5"/><polygon points="282.4,1484.4 282.4,1328.3 291.9,1328.3 301.3,1328.3 310.8,1328.3 320.2,1328.3 329.7,1328.3 339.1,1328.3 348.5,1328.3 358.0,1328.3 367.4,1328.3 376.9,1328.3 386.3,1328.3 395.8,1328.3 405.2,1328.3 414.6,1328.3 424.1,1328.3 433.5,1328.3 443.0,1328.3 452.4,1328.3 461.9,1328.3 471.3,1328.3 480.7,1328.3 490.2,1328.3 499.6,1328.3 509.1,1328.3 518.5,1328.3 528.0,1328.3 537.4,1328.3 546.8,1328.3 556.3,1328.3 565.7,1328.3 575.2,1328.3 584.6,1328.3 594.1,1328.3 603.5,1328.3 612.9,1328.3 622.4,1328.3 631.8,1328.3 641.3,1328.3 650.7,1328.3 660.2,1328.3 669.6,1328.3 679.0,1328.3 688.5,1328.3 697.9,1328.3 707.4,1328.3 716.8,1328.3 726.3,1328.3 735.7,1328.3 745.1,1328.3 754.6,1328.3 764.0,1328.3 773.5,1328.3 782.9,1328.3 792.3,1328.3 801.8,1328.3 811.2,1328.3 820.7,1328.3 830.1,1328.3 839.6,1328.3 849.0,1328.3 858.4,1328.3 867.9,1328.3 877.3,1328.3 886.8,1268.4 896.2,1386.5 905.7,1328.3 915.1,1328.3 924.5,1328.3 934.0,1328.3 943.4,1328.3 952.9,1328.3 962.3,1328.3 971.8,1328.3 981.2,1328.3 990.6,1328.3 1000.1,1328.3 1009.5,1328.3 1019.0,1328.3 1028.4,1328.3 1037.9,1328.3 1047.3,1328.3 1056.7,1328.3 1066.2,1328.3 1075.6,1328.3 1085.1,1268.4 1094.5,1386.5 1104.0,1328.3 1113.4,1328.3 1122.8,1328.3 1132.3,1328.3 1141.7,1328.3 1151.2,1328.3 1160.6,1328.3 1170.1,1328.3 1179.5,1328.3 1188.9,1328.3 1198.4,1328.3 1207.8,1328.3 1217.3,1328.3 1226.7,1328.3 1236.2,1328.3 1245.6,1328.3 1245.6,1484.4" fill="#73D8FF" fill-opacity="0.5"/><polyline points="282.4,1328.3 291.9,1328.3 301.3,1328.3 310.8,1328.3 320.2,1328.3 329.7,1328.3 339.1,1328.3 348.5,1328.3 358.0,1328.3 367.4,1328.3 376.9,1328.3 386.3,1328.3 395.8,1328.3 405.2,1328.3 414.6,1328.3 424.1,1328.3 433.5,1328.3 443.0,1328.3 452.4,1328.3 461.9,1328.3 471.3,1328.3 480.7,1328.3 490.2,1328.3 499.6,1328.3 509.1,1328.3 518.5,1328.3 528.0,1328.3 537.4,1328.3 546.8,1328.3 556.3,1328.3 565.7,1328.3 575.2,1328.3 584.6,1328.3 594.1,1328.3 603.5,1328.3 612.9,1328.3 622.4,1328.3 631.8,1328.3 641.3,1328.3 650.7,1328.3 660.2,1328.3 669.6,1328.3 679.0,1328.3 688.5,1328.3 697.9,1328.3 707.4,1328.3 716.8,1328.3 726.3,1328.3 735.7,1328.3 745.1,1328.3 754.6,1328.3 764.0,1328.3 773.5,1328.3 782.9,1328.3 792.3,1328.3 801.8,1328.3 811.2,1328.3 820.7,1328.3 830.1,1328.3 839.6,1328.3 849.0,1328.3 858.4,1328.3 867.9,1328.3 877.3,1328.3 886.8,1268.4 896.2,1386.5 905.7,1328.3 915.1,1328.3 924.5,1328.3 934.0,1328.3 943.4,1328.3 952.9,1328.3 962.3,1328.3 971.8,1328.3 981.2,1328.3 990.6,1328.3 1000.1,1328.3 1009.5,1328.3 1019.0,1328.3 1028.4,1328.3 1037.9,1328.3 1047.3,1328.3 1056.7,1328.3 1066.2,1328.3 1075.6,1328.3 1085.1,1268.4 1094.5,1386.5 1104.0,1328.3 1113.4,1328.3 1122.8,1328.3 1132.3,1328.3 1141.7,1328.3 1151.2,1328.3 1160.6,1328.3 1170.1,1328.3 1179.5,1328.3 1188.9,1328.3 1198.4,1328.3 1207.8,1328.3 1217.3,1328.3 1226.7,1328.3 1236.2,1328.3 1245.6,1328.3" fill="none" stroke="#73D8FF" stroke-width="2.5" stroke-linejoin="round" marker-start="url(#c3m0)" marker-mid="url(#c3m0)" marker-end="url(#c3m0)"/><polygon points="282.4,1484.4 282.4,1428.9 291.9,1428.9 301.3,1428.9 310.8,1428.9 320.2,1428.9 329.7,1428.9 339.1,1428.9 348.5,1428.9 358.0,1428.9 367.4,1428.9 376.9,1428.9 386.3,1428.9 395.8,1428.9 405.2,1428.9 414.6,1428.9 424.1,1428.9 433.5,1428.9 443.0,1428.9 452.4,1428.9 461.9,1428.9 471.3,1428.9 480.7,1428.9 490.2,1428.9 499.6,1428.9 509.1,1428.9 518.5,1428.9 528.0,1428.9 537.4,1428.9 546.8,1428.9 556.3,1428.9 565.7,1428.9 575.2,1428.9 584.6,1428.9 594.1,1428.9 603.5,1428.9 612.9,1428.9 622.4,1428.9 631.8,1428.9 641.3,1428.9 650.7,1428.9 660.2,1428.9 669.6,1428.9 679.0,1428.9 688.5,1428.9 697.9,1428.9 707.4,1428.9 716.8,1428.9 726.3,1428.9 735.7,1428.9 745.1,1428.9 754.6,1428.9 764.0,1428.9 773.5,1428.9 782.9,1428.9 792.3,1428.9 801.8,1428.9 811.2,1428.9 820.7,1428.9 830.1,1428.9 839.6,1428.9 849.0,1428.9 858.4,1428.9 867.9,1428.9 877.3,1428.9 886.8,1416.5 896.2,1439.0 905.7,1428.9 915.1,1428.9 924.5,1428.9 934.0,1428.9 943.4,1428.9 952.9,1428.9 962.3,1428.9 971.8,1428.9 981.2,1428.9 990.6,1428.9 1000.1,1428.9 1009.5,1428.9 1019.0,1428.9 1028.4,1428.9 1037.9,1428.9 1047.3,1428.9 1056.7,1428.9 1066.2,1428.9 1075.6,1428.9 1085.1,1416.5 1094.5,1439.0 1104.0,1428.9 1113.4,1428.9 1122.8,1428.9 1132.3,1428.9 1141.7,1428.9 1151.2,1428.9 1160.6,1428.9 1170.1,1428.9 1179.5,1428.9 1188.9,1428.9 1198.4,1428.9 1207.8,1428.9 1217.3,1428.9 1226.7,1428.9 1236.2,1428.9 1245.6,1428.9 1245.6,1484.4" fill="#68BC00" fill-opacity="0.5"/><polyline points="282.4,1428.9 291.9,1428.9 301.3,1428.9 310.8,1428.9 320.2,1428.9 329.7,1428.9 339.1,1428.9 348.5,1428.9 358.0,1428.9 367.4,1428.9 376.9,1428.9 386.3,1428.9 395.8,1428.9 405.2,1428.9 414.6,1428.9 424.1,1428.9 433.5,1428.9 443.0,1428.9 452.4,1428.9 461.9,1428.9 471.3,1428.9 480.7,1428.9 490.2,1428.9 499.6,1428.9 509.1,1428.9 518.5,1428.9 528.0,1428.9 537.4,1428.9 546.8,1428.9 556.3,1428.9 565.7,1428.9 575.2,1428.9 584.6,1428.9 594.1,1428.9 603.5,1428.9 612.9,1428.9 622.4,1428.9 631.8,1428.9 641.3,1428.9 650.7,1428.9 660.2,1428.9 669.6,1428.9 679.0,1428.9 688.5,1428.9 697.9,1428.9 707.4,1428.9 716.8,1428.9 726.3,1428.9 735.7,1428.9 745.1,1428.9 754.6,1428.9 764.0,1428.9 773.5,1428.9 782.9,1428.9 792.3,1428.9 801.8,1428.9 811.2,1428.9 820.7,1428.9 830.1,1428.9 839.6,1428.9 849.0,1428.9 858.4,1428.9 867.9,1428.9 877.3,1428.9 886.8,1416.5 896.2,1439.0 905.7,1428.9 915.1,1428.9 924.5,1428.9 934.0,1428.9 943.4,1428.9 952.9,1428.9 962.3,1428.9 971.8,1428.9 981.2,1428.9 990.6,1428.9 1000.1,1428.9 1009.5,1428.9 1019.0,1428.9 1028.4,1428.9 1037.9,1428.9 1047.3,1428.9 1056.7,1428.9 1066.2,1428.9 1075.6,1428.9 1085.1,1416.5 1094.5,1439.0 1104.0,1428.9 1113.4,1428.9 1122.8,1428.9 1132.3,1428.9 1141.7,1428.9 1151.2,1428.9 1160.6,1428.9 1170.1,1428.9 1179.5,1428.9 1188.9,1428.9 1198.4,1428.9 1207.8,1428.9 1217.3,1428.9 1226.7,1428.9 1236.2,1428.9 1245.6,1428.9" fill="none" stroke="#68BC00" stroke-width="2.5" stroke-linejoin="round" marker-start="url(#c3m1)" marker-mid="url(#c3m1)" marker-end="url(#c3m1)"/></svg>
<span class="t" style="left:99.6px;top:376.1px;font-size:27.6px;color:#999;">0</span>
<span class="t" style="left:66.6px;top:321.2px;font-size:27.6px;color:#999;letter-spacing:1.17px;">500</span>
<span class="t" style="left:47.5px;top:266.3px;font-size:27.6px;color:#999;letter-spacing:-0.41px;">1,000</span>
<span class="t" style="left:47.5px;top:211.3px;font-size:27.6px;color:#999;letter-spacing:-0.41px;">1,500</span>
<span class="t" style="left:43.2px;top:156.4px;font-size:27.6px;color:#999;letter-spacing:0.68px;">2,000</span>
<span class="t" style="left:43.2px;top:101.4px;font-size:27.6px;color:#999;letter-spacing:0.68px;">2,500</span>
<span class="t" style="left:226.6px;top:407.2px;font-size:27.6px;color:#999;letter-spacing:0.21px;">16:30:00</span>
<span class="t" style="left:509.9px;top:407.2px;font-size:27.6px;color:#999;letter-spacing:0.21px;">16:35:00</span>
<span class="t" style="left:793.2px;top:407.2px;font-size:27.6px;color:#999;letter-spacing:0.21px;">16:40:00</span>
<span class="t" style="left:487.4px;top:444.8px;font-size:31px;color:#999;font-weight:700;letter-spacing:-0.26px;">per 10 seconds</span>
<svg class="ch" style="left:50.0px;top:504.0px" width="40" height="40" viewBox="-20 -20 40 40"><path d="M-9.8 -4.9L0 4.9L9.8 -4.9" fill="none" stroke="#414141" stroke-width="1.9" stroke-linecap="round" stroke-linejoin="round"/></svg>
<div class="dot" style="left:120.0px;top:514.0px;background:#68BC00"></div>
<span class="t" style="left:158.9px;top:507.8px;font-size:31px;color:#343741;letter-spacing:0.14px;">Received</span>
<span class="t" style="left:299.6px;top:507.8px;font-size:31px;color:#4d4d4d;font-weight:700;letter-spacing:1.83px;">505.5</span>
<div class="dot" style="left:444.0px;top:514.0px;background:#73D8FF"></div>
<span class="t" style="left:483.6px;top:507.8px;font-size:31px;color:#343741;letter-spacing:0.37px;">Sent</span>
<span class="t" style="left:557.9px;top:507.8px;font-size:31px;color:#4d4d4d;font-weight:700;letter-spacing:-0.27px;">1,421</span>
</section>
<section class="panel" style="left:1363.2px;top:1090px;width:1356.8px;height:610.0px">
<span class="t" style="left:17.7px;top:20.0px;font-size:31.5px;color:#1a1c21;font-weight:700;letter-spacing:-0.54px;">Derivative of Processing time ms</span>
<svg class="ch" style="left:130.8px;top:108.7px" width="1074.2" height="370.7" viewBox="1497.0 1201.7 1074.2 370.7"><defs><marker id="c4m0" markerWidth="10" markerHeight="10" refX="5" refY="5" markerUnits="userSpaceOnUse"><circle cx="5" cy="5" r="2.5" fill="#fff" stroke="#68BC00" stroke-width="2.5"/></marker></defs><path d="M1669.4 1208.5V1565.7M1977.6 1208.5V1565.7M2285.8 1208.5V1565.7M1503.8 1493.5H2564.4M1503.8 1422.5H2564.4M1503.8 1351.6H2564.4M1503.8 1280.6H2564.4" stroke="#e2e3ea" stroke-width="2.4" fill="none"/><rect x="1503.8" y="1208.5" width="1060.7" height="357.2" fill="none" stroke="#e2e3ea" stroke-width="2.5"/><polygon points="1515.3,1564.4 1515.3,1365.8 1525.5,1394.1 1535.8,1493.5 1546.1,1337.4 1556.4,1493.5 1566.6,1394.1 1576.9,1507.6 1587.2,1422.5 1597.5,1394.1 1607.7,1493.5 1618.0,1394.1 1628.3,1493.5 1638.6,1436.7 1648.8,1408.3 1659.1,1479.3 1669.4,1408.3 1679.7,1422.5 1689.9,1507.6 1700.2,1450.9 1710.5,1408.3 1720.7,1422.5 1731.0,1408.3 1741.3,1422.5 1751.6,1394.1 1761.8,1394.1 1772.1,1422.5 1782.4,1521.8 1792.7,1422.5 1802.9,1380.0 1813.2,1450.9 1823.5,1380.0 1833.8,1351.6 1844.0,1365.8 1854.3,1408.3 1864.6,1394.1 1874.9,1436.7 1885.1,1450.9 1895.4,1309.0 1905.7,1465.1 1916.0,1493.5 1926.2,1380.0 1936.5,1507.6 1946.8,1394.1 1957.0,1365.8 1967.3,1465.1 1977.6,1394.1 1987.9,1465.1 1998.1,1465.1 2008.4,1465.1 2018.7,1422.5 2029.0,1521.8 2039.2,1436.7 2049.5,1465.1 2059.8,1422.5 2070.1,1365.8 2080.3,1394.1 2090.6,1465.1 2100.9,1422.5 2111.2,1422.5 2121.4,1422.5 2131.7,1507.6 2142.0,1422.5 2152.2,1450.9 2162.5,1450.9 2172.8,1323.2 2183.1,1493.5 2193.3,1351.6 2203.6,1479.3 2213.9,1450.9 2224.2,1309.0 2234.4,1394.1 2244.7,1507.6 2255.0,1408.3 2265.3,1252.3 2275.5,1380.0 2285.8,1408.3 2296.1,1436.7 2306.4,1450.9 2316.6,1394.1 2326.9,1521.8 2337.2,1507.6 2347.5,1465.1 2357.7,1394.1 2368.0,1351.6 2378.3,1351.6 2388.5,1351.6 2398.8,1394.1 2409.1,1450.9 2419.4,1380.0 2429.6,1436.7 2439.9,1408.3 2450.2,1422.5 2460.5,1380.0 2470.7,1465.1 2481.0,1422.5 2491.3,1408.3 2501.6,1408.3 2511.8,1479.3 2522.1,1436.7 2532.4,1294.8 2542.7,1507.6 2552.9,1380.0 2563.2,1493.5 2563.2,1564.4" fill="#68BC00" fill-opacity="0.5"/><polyline points="1515.3,1365.8 1525.5,1394.1 1535.8,1493.5 1546.1,1337.4 1556.4,1493.5 1566.6,1394.1 1576.9,1507.6 1587.2,1422.5 1597.5,1394.1 1607.7,1493.5 1618.0,1394.1 1628.3,1493.5 1638.6,1436.7 1648.8,1408.3 1659.1,1479.3 1669.4,1408.3 1679.7,1422.5 1689.9,1507.6 1700.2,1450.9 1710.5,1408.3 1720.7,1422.5 1731.0,1408.3 1741.3,1422.5 1751.6,1394.1 1761.8,1394.1 1772.1,1422.5 1782.4,1521.8 1792.7,1422.5 1802.9,1380.0 1813.2,1450.9 1823.5,1380.0 1833.8,1351.6 1844.0,1365.8 1854.3,1408.3 1864.6,1394.1 1874.9,1436.7 1885.1,1450.9 1895.4,1309.0 1905.7,1465.1 1916.0,1493.5 1926.2,1380.0 1936.5,1507.6 1946.8,1394.1 1957.0,1365.8 1967.3,1465.1 1977.6,1394.1 1987.9,1465.1 1998.1,1465.1 2008.4,1465.1 2018.7,1422.5 2029.0,1521.8 2039.2,1436.7 2049.5,1465.1 2059.8,1422.5 2070.1,1365.8 2080.3,1394.1 2090.6,1465.1 2100.9,1422.5 2111.2,1422.5 2121.4,1422.5 2131.7,1507.6 2142.0,1422.5 2152.2,1450.9 2162.5,1450.9 2172.8,1323.2 2183.1,1493.5 2193.3,1351.6 2203.6,1479.3 2213.9,1450.9 2224.2,1309.0 2234.4,1394.1 2244.7,1507.6 2255.0,1408.3 2265.3,1252.3 2275.5,1380.0 2285.8,1408.3 2296.1,1436.7 2306.4,1450.9 2316.6,1394.1 2326.9,1521.8 2337.2,1507.6 2347.5,1465.1 2357.7,1394.1 2368.0,1351.6 2378.3,1351.6 2388.5,1351.6 2398.8,1394.1 2409.1,1450.9 2419.4,1380.0 2429.6,1436.7 2439.9,1408.3 2450.2,1422.5 2460.5,1380.0 2470.7,1465.1 2481.0,1422.5 2491.3,1408.3 2501.6,1408.3 2511.8,1479.3 2522.1,1436.7 2532.4,1294.8 2542.7,1507.6 2552.9,1380.0 2563.2,1493.5" fill="none" stroke="#68BC00" stroke-width="2.5" stroke-linejoin="round" marker-start="url(#c4m0)" marker-mid="url(#c4m0)" marker-end="url(#c4m0)"/></svg>
<span class="t" style="left:53.8px;top:456.1px;font-size:27.6px;color:#999;letter-spacing:0.68px;">0.000</span>
<span class="t" style="left:53.8px;top:385.2px;font-size:27.6px;color:#999;letter-spacing:0.68px;">2.500</span>
<span class="t" style="left:53.8px;top:314.3px;font-size:27.6px;color:#999;letter-spacing:0.68px;">5.000</span>
<span class="t" style="left:53.8px;top:243.3px;font-size:27.6px;color:#999;letter-spacing:0.68px;">7.500</span>
<span class="t" style="left:42.0px;top:172.4px;font-size:27.6px;color:#999;letter-spacing:-0.18px;">10.000</span>
<span class="t" style="left:42.0px;top:101.4px;font-size:27.6px;color:#999;letter-spacing:-0.18px;">12.500</span>
<span class="t" style="left:248.7px;top:486.3px;font-size:27.6px;color:#999;letter-spacing:0.21px;">16:30:00</span>
<span class="t" style="left:556.9px;top:486.3px;font-size:27.6px;color:#999;letter-spacing:0.21px;">16:35:00</span>
<span class="t" style="left:865.1px;top:486.3px;font-size:27.6px;color:#999;letter-spacing:0.21px;">16:40:00</span>
<span class="t" style="left:532.7px;top:524.0px;font-size:31px;color:#999;font-weight:700;letter-spacing:-0.26px;">per 10 seconds</span>
<svg class="ch" style="left:1262.1px;top:119.0px" width="40" height="40" viewBox="-20 -20 40 40"><path d="M4.9 -9.8L-4.9 0L4.9 9.8" fill="none" stroke="#414141" stroke-width="1.9" stroke-linecap="round" stroke-linejoin="round"/></svg>
</section>
<section class="panel" style="left:2740.2px;top:1090px;width:1050.3px;height:610.0px">
<span class="t" style="left:18.7px;top:20.0px;font-size:31.5px;color:#1a1c21;font-weight:700;letter-spacing:-0.35px;">Cache Hit Total</span>
<svg class="ch" style="left:86.5px;top:108.7px" width="811.1" height="370.7" viewBox="2829.7 1201.7 811.1 370.7"><defs><marker id="c5m0" markerWidth="10" markerHeight="10" refX="5" refY="5" markerUnits="userSpaceOnUse"><circle cx="5" cy="5" r="2.5" fill="#fff" stroke="#68BC00" stroke-width="2.5"/></marker></defs><path d="M2961.2 1208.5V1565.7M3192.8 1208.5V1565.7M3424.4 1208.5V1565.7M2836.4 1493.5H3634.1M2836.4 1422.5H3634.1M2836.4 1351.6H3634.1M2836.4 1280.6H3634.1" stroke="#e2e3ea" stroke-width="2.4" fill="none"/><rect x="2836.4" y="1208.5" width="797.6" height="357.2" fill="none" stroke="#e2e3ea" stroke-width="2.5"/><polygon points="2837.7,1564.4 2837.7,1268.8 2845.4,1268.8 2853.1,1268.8 2860.9,1268.8 2868.6,1268.8 2876.3,1268.8 2884.0,1268.8 2891.7,1268.8 2899.5,1268.8 2907.2,1268.8 2914.9,1268.8 2922.6,1268.8 2930.3,1268.8 2938.1,1268.8 2945.8,1268.8 2953.5,1268.8 2961.2,1268.8 2968.9,1268.8 2976.6,1268.8 2984.4,1268.8 2992.1,1268.8 2999.8,1268.8 3007.5,1268.8 3015.2,1268.8 3023.0,1268.8 3030.7,1268.8 3038.4,1268.8 3046.1,1268.8 3053.8,1268.8 3061.6,1268.8 3069.3,1268.8 3077.0,1268.8 3084.7,1268.8 3092.4,1268.8 3100.2,1268.8 3107.9,1268.8 3115.6,1268.8 3123.3,1268.8 3131.0,1268.8 3138.8,1268.8 3146.5,1268.8 3154.2,1268.8 3161.9,1268.8 3169.6,1268.8 3177.4,1268.8 3185.1,1268.8 3192.8,1268.8 3200.5,1268.8 3208.2,1268.8 3216.0,1268.8 3223.7,1268.8 3231.4,1268.8 3239.1,1268.8 3246.8,1268.8 3254.5,1268.8 3262.3,1268.8 3270.0,1268.8 3277.7,1268.8 3285.4,1268.8 3293.1,1268.8 3300.9,1268.8 3308.6,1268.8 3316.3,1268.8 3324.0,1268.8 3331.7,1268.8 3339.5,1268.8 3347.2,1268.8 3354.9,1268.8 3362.6,1268.8 3370.3,1268.8 3378.1,1268.8 3385.8,1268.8 3393.5,1268.8 3401.2,1268.8 3408.9,1268.8 3416.7,1268.8 3424.4,1268.8 3432.1,1268.8 3439.8,1268.8 3447.5,1268.8 3455.3,1268.8 3463.0,1268.8 3470.7,1268.8 3478.4,1268.8 3486.1,1268.8 3493.9,1268.8 3501.6,1268.8 3509.3,1268.8 3517.0,1268.8 3524.7,1268.8 3532.4,1268.8 3540.2,1268.8 3547.9,1268.8 3555.6,1268.8 3563.3,1268.8 3571.0,1268.8 3578.8,1268.8 3586.5,1268.8 3594.2,1268.8 3601.9,1268.8 3609.6,1268.8 3617.4,1268.8 3625.1,1268.8 3632.8,1268.8 3632.8,1564.4" fill="#68BC00" fill-opacity="0.5"/><polyline points="2837.7,1268.8 2845.4,1268.8 2853.1,1268.8 2860.9,1268.8 2868.6,1268.8 2876.3,1268.8 2884.0,1268.8 2891.7,1268.8 2899.5,1268.8 2907.2,1268.8 2914.9,1268.8 2922.6,1268.8 2930.3,1268.8 2938.1,1268.8 2945.8,1268.8 2953.5,1268.8 2961.2,1268.8 2968.9,1268.8 2976.6,1268.8 2984.4,1268.8 2992.1,1268.8 2999.8,1268.8 3007.5,1268.8 3015.2,1268.8 3023.0,1268.8 3030.7,1268.8 3038.4,1268.8 3046.1,1268.8 3053.8,1268.8 3061.6,1268.8 3069.3,1268.8 3077.0,1268.8 3084.7,1268.8 3092.4,1268.8 3100.2,1268.8 3107.9,1268.8 3115.6,1268.8 3123.3,1268.8 3131.0,1268.8 3138.8,1268.8 3146.5,1268.8 3154.2,1268.8 3161.9,1268.8 3169.6,1268.8 3177.4,1268.8 3185.1,1268.8 3192.8,1268.8 3200.5,1268.8 3208.2,1268.8 3216.0,1268.8 3223.7,1268.8 3231.4,1268.8 3239.1,1268.8 3246.8,1268.8 3254.5,1268.8 3262.3,1268.8 3270.0,1268.8 3277.7,1268.8 3285.4,1268.8 3293.1,1268.8 3300.9,1268.8 3308.6,1268.8 3316.3,1268.8 3324.0,1268.8 3331.7,1268.8 3339.5,1268.8 3347.2,1268.8 3354.9,1268.8 3362.6,1268.8 3370.3,1268.8 3378.1,1268.8 3385.8,1268.8 3393.5,1268.8 3401.2,1268.8 3408.9,1268.8 3416.7,1268.8 3424.4,1268.8 3432.1,1268.8 3439.8,1268.8 3447.5,1268.8 3455.3,1268.8 3463.0,1268.8 3470.7,1268.8 3478.4,1268.8 3486.1,1268.8 3493.9,1268.8 3501.6,1268.8 3509.3,1268.8 3517.0,1268.8 3524.7,1268.8 3532.4,1268.8 3540.2,1268.8 3547.9,1268.8 3555.6,1268.8 3563.3,1268.8 3571.0,1268.8 3578.8,1268.8 3586.5,1268.8 3594.2,1268.8 3601.9,1268.8 3609.6,1268.8 3617.4,1268.8 3625.1,1268.8 3632.8,1268.8" fill="none" stroke="#68BC00" stroke-width="2.5" stroke-linejoin="round" marker-start="url(#c5m0)" marker-mid="url(#c5m0)" marker-end="url(#c5m0)"/></svg>
<span class="t" style="left:54.8px;top:456.1px;font-size:27.6px;color:#999;">0</span>
<span class="t" style="left:54.8px;top:385.2px;font-size:27.6px;color:#999;">2</span>
<span class="t" style="left:54.8px;top:314.3px;font-size:27.6px;color:#999;">4</span>
<span class="t" style="left:54.8px;top:243.3px;font-size:27.6px;color:#999;">6</span>
<span class="t" style="left:54.8px;top:172.4px;font-size:27.6px;color:#999;">8</span>
<span class="t" style="left:40.7px;top:101.4px;font-size:27.6px;color:#999;letter-spacing:-1.30px;">10</span>
<span class="t" style="left:163.5px;top:486.3px;font-size:27.6px;color:#999;letter-spacing:0.21px;">16:30:00</span>
<span class="t" style="left:395.1px;top:486.3px;font-size:27.6px;color:#999;letter-spacing:0.21px;">16:35:00</span>
<span class="t" style="left:626.7px;top:486.3px;font-size:27.6px;color:#999;letter-spacing:0.21px;">16:40:00</span>
<span class="t" style="left:380.6px;top:524.0px;font-size:31px;color:#999;font-weight:700;letter-spacing:-0.26px;">per 10 seconds</span>
<svg class="ch" style="left:955.2px;top:119.0px" width="40" height="40" viewBox="-20 -20 40 40"><path d="M4.9 -9.8L-4.9 0L4.9 9.8" fill="none" stroke="#414141" stroke-width="1.9" stroke-linecap="round" stroke-linejoin="round"/></svg>
</section>
<section class="panel" style="left:140px;top:1720px;width:1203.0px;height:610.0px">
<span class="t" style="left:19.1px;top:20.0px;font-size:31.5px;color:#1a1c21;font-weight:700;letter-spacing:-0.22px;">Total Threads</span>
<svg class="ch" style="left:86.9px;top:108.7px" width="1023.7" height="290.7" viewBox="229.9 1831.7 1023.7 290.7"><defs><marker id="c6m0" markerWidth="10" markerHeight="10" refX="5" refY="5" markerUnits="userSpaceOnUse"><circle cx="5" cy="5" r="2.5" fill="#fff" stroke="#F44E3B" stroke-width="2.5"/></marker><marker id="c6m1" markerWidth="10" markerHeight="10" refX="5" refY="5" markerUnits="userSpaceOnUse"><circle cx="5" cy="5" r="2.5" fill="#fff" stroke="#68BC00" stroke-width="2.5"/></marker></defs><path d="M394.4 1838.5V2115.7M687.9 1838.5V2115.7M981.4 1838.5V2115.7M236.7 2045.7H1246.8M236.7 1977.1H1246.8M236.7 1908.4H1246.8" stroke="#e2e3ea" stroke-width="2.4" fill="none"/><rect x="236.7" y="1838.5" width="1010.2" height="277.2" fill="none" stroke="#e2e3ea" stroke-width="2.5"/><polygon points="237.9,2114.4 237.9,1874.0 247.7,1874.0 257.5,1874.0 267.3,1874.0 277.0,1874.0 286.8,1874.0 296.6,1874.0 306.4,1874.0 316.2,1874.0 326.0,1874.0 335.7,1874.0 345.5,1874.0 355.3,1874.0 365.1,1874.0 374.9,1874.0 384.7,1874.0 394.4,1874.0 404.2,1874.0 414.0,1874.0 423.8,1874.0 433.6,1874.0 443.4,1874.0 453.1,1874.0 462.9,1874.0 472.7,1874.0 482.5,1874.0 492.3,1874.0 502.1,1874.0 511.8,1874.0 521.6,1874.0 531.4,1874.0 541.2,1874.0 551.0,1874.0 560.8,1874.0 570.5,1874.0 580.3,1874.0 590.1,1874.0 599.9,1874.0 609.7,1874.0 619.5,1874.0 629.2,1874.0 639.0,1874.0 648.8,1874.0 658.6,1874.0 668.4,1874.0 678.2,1874.0 687.9,1874.0 697.7,1874.0 707.5,1874.0 717.3,1874.0 727.1,1874.0 736.9,1874.0 746.6,1874.0 756.4,1874.0 766.2,1874.0 776.0,1874.0 785.8,1874.0 795.6,1874.0 805.3,1874.0 815.1,1874.0 824.9,1874.0 834.7,1874.0 844.5,1874.0 854.3,1874.0 864.0,1874.0 873.8,1874.0 883.6,1874.0 893.4,1874.0 903.2,1874.0 913.0,1874.0 922.7,1874.0 932.5,1874.0 942.3,1874.0 952.1,1874.0 961.9,1874.0 971.7,1874.0 981.4,1874.0 991.2,1874.0 1001.0,1874.0 1010.8,1874.0 1020.6,1874.0 1030.4,1874.0 1040.1,1874.0 1049.9,1874.0 1059.7,1874.0 1069.5,1874.0 1079.3,1874.0 1089.1,1874.0 1098.8,1874.0 1108.6,1874.0 1118.4,1874.0 1128.2,1874.0 1138.0,1874.0 1147.8,1874.0 1157.5,1874.0 1167.3,1874.0 1177.1,1874.0 1186.9,1874.0 1196.7,1874.0 1206.5,1874.0 1216.2,1874.0 1226.0,1874.0 1235.8,1874.0 1245.6,1874.0 1245.6,2114.4" fill="#F44E3B" fill-opacity="0.5"/><polyline points="237.9,1874.0 247.7,1874.0 257.5,1874.0 267.3,1874.0 277.0,1874.0 286.8,1874.0 296.6,1874.0 306.4,1874.0 316.2,1874.0 326.0,1874.0 335.7,1874.0 345.5,1874.0 355.3,1874.0 365.1,1874.0 374.9,1874.0 384.7,1874.0 394.4,1874.0 404.2,1874.0 414.0,1874.0 423.8,1874.0 433.6,1874.0 443.4,1874.0 453.1,1874.0 462.9,1874.0 472.7,1874.0 482.5,1874.0 492.3,1874.0 502.1,1874.0 511.8,1874.0 521.6,1874.0 531.4,1874.0 541.2,1874.0 551.0,1874.0 560.8,1874.0 570.5,1874.0 580.3,1874.0 590.1,1874.0 599.9,1874.0 609.7,1874.0 619.5,1874.0 629.2,1874.0 639.0,1874.0 648.8,1874.0 658.6,1874.0 668.4,1874.0 678.2,1874.0 687.9,1874.0 697.7,1874.0 707.5,1874.0 717.3,1874.0 727.1,1874.0 736.9,1874.0 746.6,1874.0 756.4,1874.0 766.2,1874.0 776.0,1874.0 785.8,1874.0 795.6,1874.0 805.3,1874.0 815.1,1874.0 824.9,1874.0 834.7,1874.0 844.5,1874.0 854.3,1874.0 864.0,1874.0 873.8,1874.0 883.6,1874.0 893.4,1874.0 903.2,1874.0 913.0,1874.0 922.7,1874.0 932.5,1874.0 942.3,1874.0 952.1,1874.0 961.9,1874.0 971.7,1874.0 981.4,1874.0 991.2,1874.0 1001.0,1874.0 1010.8,1874.0 1020.6,1874.0 1030.4,1874.0 1040.1,1874.0 1049.9,1874.0 1059.7,1874.0 1069.5,1874.0 1079.3,1874.0 1089.1,1874.0 1098.8,1874.0 1108.6,1874.0 1118.4,1874.0 1128.2,1874.0 1138.0,1874.0 1147.8,1874.0 1157.5,1874.0 1167.3,1874.0 1177.1,1874.0 1186.9,1874.0 1196.7,1874.0 1206.5,1874.0 1216.2,1874.0 1226.0,1874.0 1235.8,1874.0 1245.6,1874.0" fill="none" stroke="#F44E3B" stroke-width="2.5" stroke-linejoin="round" marker-start="url(#c6m0)" marker-mid="url(#c6m0)" marker-end="url(#c6m0)"/><polygon points="237.9,2114.4 237.9,1874.0 247.7,1874.0 257.5,1874.0 267.3,1874.0 277.0,1874.0 286.8,1874.0 296.6,1874.0 306.4,1874.0 316.2,1874.0 326.0,1874.0 335.7,1874.0 345.5,1874.0 355.3,1874.0 365.1,1874.0 374.9,1874.0 384.7,1874.0 394.4,1874.0 404.2,1874.0 414.0,1874.0 423.8,1874.0 433.6,1874.0 443.4,1874.0 453.1,1874.0 462.9,1874.0 472.7,1874.0 482.5,1874.0 492.3,1874.0 502.1,1874.0 511.8,1874.0 521.6,1874.0 531.4,1874.0 541.2,1874.0 551.0,1874.0 560.8,1874.0 570.5,1874.0 580.3,1874.0 590.1,1874.0 599.9,1874.0 609.7,1874.0 619.5,1874.0 629.2,1874.0 639.0,1874.0 648.8,1874.0 658.6,1874.0 668.4,1874.0 678.2,1874.0 687.9,1874.0 697.7,1874.0 707.5,1874.0 717.3,1874.0 727.1,1874.0 736.9,1874.0 746.6,1874.0 756.4,1874.0 766.2,1874.0 776.0,1874.0 785.8,1874.0 795.6,1874.0 805.3,1874.0 815.1,1874.0 824.9,1874.0 834.7,1874.0 844.5,1874.0 854.3,1874.0 864.0,1874.0 873.8,1874.0 883.6,1874.0 893.4,1874.0 903.2,1874.0 913.0,1874.0 922.7,1874.0 932.5,1874.0 942.3,1874.0 952.1,1874.0 961.9,1874.0 971.7,1874.0 981.4,1874.0 991.2,1874.0 1001.0,1874.0 1010.8,1874.0 1020.6,1874.0 1030.4,1874.0 1040.1,1874.0 1049.9,1874.0 1059.7,1874.0 1069.5,1874.0 1079.3,1874.0 1089.1,1874.0 1098.8,1874.0 1108.6,1874.0 1118.4,1874.0 1128.2,1874.0 1138.0,1874.0 1147.8,1874.0 1157.5,1874.0 1167.3,1874.0 1177.1,1874.0 1186.9,1874.0 1196.7,1874.0 1206.5,1874.0 1216.2,1874.0 1226.0,1874.0 1235.8,1874.0 1245.6,1874.0 1245.6,2114.4" fill="#68BC00" fill-opacity="0.5"/><polyline points="237.9,1874.0 247.7,1874.0 257.5,1874.0 267.3,1874.0 277.0,1874.0 286.8,1874.0 296.6,1874.0 306.4,1874.0 316.2,1874.0 326.0,1874.0 335.7,1874.0 345.5,1874.0 355.3,1874.0 365.1,1874.0 374.9,1874.0 384.7,1874.0 394.4,1874.0 404.2,1874.0 414.0,1874.0 423.8,1874.0 433.6,1874.0 443.4,1874.0 453.1,1874.0 462.9,1874.0 472.7,1874.0 482.5,1874.0 492.3,1874.0 502.1,1874.0 511.8,1874.0 521.6,1874.0 531.4,1874.0 541.2,1874.0 551.0,1874.0 560.8,1874.0 570.5,1874.0 580.3,1874.0 590.1,1874.0 599.9,1874.0 609.7,1874.0 619.5,1874.0 629.2,1874.0 639.0,1874.0 648.8,1874.0 658.6,1874.0 668.4,1874.0 678.2,1874.0 687.9,1874.0 697.7,1874.0 707.5,1874.0 717.3,1874.0 727.1,1874.0 736.9,1874.0 746.6,1874.0 756.4,1874.0 766.2,1874.0 776.0,1874.0 785.8,1874.0 795.6,1874.0 805.3,1874.0 815.1,1874.0 824.9,1874.0 834.7,1874.0 844.5,1874.0 854.3,1874.0 864.0,1874.0 873.8,1874.0 883.6,1874.0 893.4,1874.0 903.2,1874.0 913.0,1874.0 922.7,1874.0 932.5,1874.0 942.3,1874.0 952.1,1874.0 961.9,1874.0 971.7,1874.0 981.4,1874.0 991.2,1874.0 1001.0,1874.0 1010.8,1874.0 1020.6,1874.0 1030.4,1874.0 1040.1,1874.0 1049.9,1874.0 1059.7,1874.0 1069.5,1874.0 1079.3,1874.0 1089.1,1874.0 1098.8,1874.0 1108.6,1874.0 1118.4,1874.0 1128.2,1874.0 1138.0,1874.0 1147.8,1874.0 1157.5,1874.0 1167.3,1874.0 1177.1,1874.0 1186.9,1874.0 1196.7,1874.0 1206.5,1874.0 1216.2,1874.0 1226.0,1874.0 1235.8,1874.0 1245.6,1874.0" fill="none" stroke="#68BC00" stroke-width="2.5" stroke-linejoin="round" marker-start="url(#c6m1)" marker-mid="url(#c6m1)" marker-end="url(#c6m1)"/></svg>
<span class="t" style="left:61.7px;top:376.1px;font-size:27.6px;color:#999;">0</span>
<span class="t" style="left:47.6px;top:307.5px;font-size:27.6px;color:#999;letter-spacing:-1.30px;">10</span>
<span class="t" style="left:44.8px;top:238.8px;font-size:27.6px;color:#999;letter-spacing:1.56px;">20</span>
<span class="t" style="left:44.8px;top:170.1px;font-size:27.6px;color:#999;letter-spacing:1.56px;">30</span>
<span class="t" style="left:44.8px;top:101.4px;font-size:27.6px;color:#999;letter-spacing:1.56px;">40</span>
<span class="t" style="left:197.0px;top:407.2px;font-size:27.6px;color:#999;letter-spacing:0.21px;">16:30:00</span>
<span class="t" style="left:490.5px;top:407.2px;font-size:27.6px;color:#999;letter-spacing:0.21px;">16:35:00</span>
<span class="t" style="left:784.0px;top:407.2px;font-size:27.6px;color:#999;letter-spacing:0.21px;">16:40:00</span>
</section>
<section class="panel" style="left:1363.2px;top:1720px;width:1356.8px;height:610.0px">
<span class="t" style="left:17.7px;top:20.0px;font-size:31.5px;color:#1a1c21;font-weight:700;letter-spacing:-0.27px;">Other Memory usage</span>
<svg class="ch" style="left:173.1px;top:108.7px" width="592.7" height="370.7" viewBox="1539.3 1831.7 592.7 370.7"><defs><marker id="c7m0" markerWidth="10" markerHeight="10" refX="5" refY="5" markerUnits="userSpaceOnUse"><circle cx="5" cy="5" r="2.5" fill="#fff" stroke="#E27300" stroke-width="2.5"/></marker><marker id="c7m1" markerWidth="10" markerHeight="10" refX="5" refY="5" markerUnits="userSpaceOnUse"><circle cx="5" cy="5" r="2.5" fill="#fff" stroke="#73D8FF" stroke-width="2.5"/></marker><marker id="c7m2" markerWidth="10" markerHeight="10" refX="5" refY="5" markerUnits="userSpaceOnUse"><circle cx="5" cy="5" r="2.5" fill="#fff" stroke="#68BC00" stroke-width="2.5"/></marker><marker id="c7m3" markerWidth="10" markerHeight="10" refX="5" refY="5" markerUnits="userSpaceOnUse"><circle cx="5" cy="5" r="2.5" fill="#fff" stroke="#9F0500" stroke-width="2.5"/></marker></defs><path d="M1636.9 1838.5V2195.7M1804.9 1838.5V2195.7M1972.8 1838.5V2195.7M1546.0 2135.3H2125.2M1546.0 2076.2H2125.2M1546.0 2017.1H2125.2M1546.0 1957.9H2125.2M1546.0 1898.8H2125.2" stroke="#e2e3ea" stroke-width="2.4" fill="none"/><rect x="1546.0" y="1838.5" width="579.2" height="357.2" fill="none" stroke="#e2e3ea" stroke-width="2.5"/><polygon points="1547.3,2135.3 1547.3,2135.3 1552.9,2135.3 1558.5,2135.3 1564.1,2135.3 1569.7,2135.3 1575.3,2135.3 1580.9,2135.3 1586.5,2135.3 1592.1,2135.3 1597.7,2135.3 1603.3,2135.3 1608.9,2135.3 1614.5,2135.3 1620.1,2135.3 1625.7,2135.3 1631.3,2135.3 1636.9,2135.3 1642.5,2135.3 1648.1,2135.3 1653.7,2135.3 1659.3,2135.3 1664.9,2135.3 1670.5,2135.3 1676.1,2135.3 1681.7,2135.3 1687.3,2135.3 1692.9,2135.3 1698.5,2135.3 1704.1,2135.3 1709.7,2135.3 1715.3,2135.3 1720.9,2135.3 1726.5,2135.3 1732.1,2135.3 1737.7,2135.3 1743.3,2135.3 1748.9,2135.3 1754.5,2135.3 1760.1,2135.3 1765.7,2135.3 1771.3,2135.3 1776.9,2135.3 1782.5,2135.3 1788.1,2135.3 1793.7,2135.3 1799.3,2135.3 1804.9,2135.3 1810.5,2135.3 1816.1,2135.3 1821.7,2135.3 1827.3,2135.3 1832.9,2135.3 1838.4,2135.3 1844.0,2135.3 1849.6,2135.3 1855.2,2135.3 1860.8,2135.3 1866.4,2135.3 1872.0,2135.3 1877.6,2135.3 1883.2,2135.3 1888.8,2135.3 1894.4,2135.3 1900.0,2135.3 1905.6,2135.3 1911.2,2135.3 1916.8,2135.3 1922.4,2135.3 1928.0,2135.3 1933.6,2135.3 1939.2,2135.3 1944.8,2135.3 1950.4,2135.3 1956.0,2135.3 1961.6,2135.3 1967.2,2135.3 1972.8,2135.3 1978.4,2135.3 1984.0,2135.3 1989.6,2135.3 1995.2,2135.3 2000.8,2135.3 2006.4,2135.3 2012.0,2135.3 2017.6,2135.3 2023.2,2135.3 2028.8,2135.3 2034.4,2135.3 2040.0,2135.3 2045.6,2135.3 2051.2,2135.3 2056.8,2135.3 2062.4,2135.3 2068.0,2135.3 2073.6,2135.3 2079.2,2135.3 2084.8,2135.3 2090.4,2135.3 2096.0,2135.3 2101.6,2135.3 2107.2,2135.3 2112.8,2135.3 2118.4,2135.3 2124.0,2135.3 2124.0,2135.3" fill="#E27300" fill-opacity="0.5"/><polyline points="1547.3,2135.3 1552.9,2135.3 1558.5,2135.3 1564.1,2135.3 1569.7,2135.3 1575.3,2135.3 1580.9,2135.3 1586.5,2135.3 1592.1,2135.3 1597.7,2135.3 1603.3,2135.3 1608.9,2135.3 1614.5,2135.3 1620.1,2135.3 1625.7,2135.3 1631.3,2135.3 1636.9,2135.3 1642.5,2135.3 1648.1,2135.3 1653.7,2135.3 1659.3,2135.3 1664.9,2135.3 1670.5,2135.3 1676.1,2135.3 1681.7,2135.3 1687.3,2135.3 1692.9,2135.3 1698.5,2135.3 1704.1,2135.3 1709.7,2135.3 1715.3,2135.3 1720.9,2135.3 1726.5,2135.3 1732.1,2135.3 1737.7,2135.3 1743.3,2135.3 1748.9,2135.3 1754.5,2135.3 1760.1,2135.3 1765.7,2135.3 1771.3,2135.3 1776.9,2135.3 1782.5,2135.3 1788.1,2135.3 1793.7,2135.3 1799.3,2135.3 1804.9,2135.3 1810.5,2135.3 1816.1,2135.3 1821.7,2135.3 1827.3,2135.3 1832.9,2135.3 1838.4,2135.3 1844.0,2135.3 1849.6,2135.3 1855.2,2135.3 1860.8,2135.3 1866.4,2135.3 1872.0,2135.3 1877.6,2135.3 1883.2,2135.3 1888.8,2135.3 1894.4,2135.3 1900.0,2135.3 1905.6,2135.3 1911.2,2135.3 1916.8,2135.3 1922.4,2135.3 1928.0,2135.3 1933.6,2135.3 1939.2,2135.3 1944.8,2135.3 1950.4,2135.3 1956.0,2135.3 1961.6,2135.3 1967.2,2135.3 1972.8,2135.3 1978.4,2135.3 1984.0,2135.3 1989.6,2135.3 1995.2,2135.3 2000.8,2135.3 2006.4,2135.3 2012.0,2135.3 2017.6,2135.3 2023.2,2135.3 2028.8,2135.3 2034.4,2135.3 2040.0,2135.3 2045.6,2135.3 2051.2,2135.3 2056.8,2135.3 2062.4,2135.3 2068.0,2135.3 2073.6,2135.3 2079.2,2135.3 2084.8,2135.3 2090.4,2135.3 2096.0,2135.3 2101.6,2135.3 2107.2,2135.3 2112.8,2135.3 2118.4,2135.3 2124.0,2135.3" fill="none" stroke="#E27300" stroke-width="2.5" stroke-linejoin="round" marker-start="url(#c7m0)" marker-mid="url(#c7m0)" marker-end="url(#c7m0)"/><polygon points="1547.3,2135.3 1547.3,2090.0 1552.9,2090.0 1558.5,2090.0 1564.1,2090.0 1569.7,2090.0 1575.3,2090.0 1580.9,2090.0 1586.5,2090.0 1592.1,2090.0 1597.7,2090.0 1603.3,2090.0 1608.9,2090.0 1614.5,2090.0 1620.1,2090.0 1625.7,2090.0 1631.3,2090.0 1636.9,2090.0 1642.5,2090.0 1648.1,2090.0 1653.7,2090.0 1659.3,2090.0 1664.9,2090.0 1670.5,2090.0 1676.1,2090.0 1681.7,2090.0 1687.3,2090.0 1692.9,2090.0 1698.5,2090.0 1704.1,2090.0 1709.7,2090.0 1715.3,2090.0 1720.9,2090.0 1726.5,2090.0 1732.1,2090.0 1737.7,2090.0 1743.3,2090.0 1748.9,2090.0 1754.5,2090.0 1760.1,2090.0 1765.7,2090.0 1771.3,2090.0 1776.9,2090.0 1782.5,2090.0 1788.1,2090.0 1793.7,2090.0 1799.3,2090.0 1804.9,2090.0 1810.5,2090.0 1816.1,2090.0 1821.7,2090.0 1827.3,2090.0 1832.9,2090.0 1838.4,2090.0 1844.0,2090.0 1849.6,2090.0 1855.2,2090.0 1860.8,2090.0 1866.4,2090.0 1872.0,2090.0 1877.6,2090.0 1883.2,2090.0 1888.8,2090.0 1894.4,2090.0 1900.0,2090.0 1905.6,2090.0 1911.2,2090.0 1916.8,2090.0 1922.4,2090.0 1928.0,2090.0 1933.6,2090.0 1939.2,2090.0 1944.8,2090.0 1950.4,2090.0 1956.0,2090.0 1961.6,2090.0 1967.2,2090.0 1972.8,2090.0 1978.4,2090.0 1984.0,2090.0 1989.6,2090.0 1995.2,2090.0 2000.8,2090.0 2006.4,2090.0 2012.0,2090.0 2017.6,2090.0 2023.2,2090.0 2028.8,2090.0 2034.4,2090.0 2040.0,2090.0 2045.6,2090.0 2051.2,2090.0 2056.8,2090.0 2062.4,2090.0 2068.0,2090.0 2073.6,2090.0 2079.2,2090.0 2084.8,2090.0 2090.4,2090.0 2096.0,2090.0 2101.6,2090.0 2107.2,2090.0 2112.8,2090.0 2118.4,2090.0 2124.0,2090.0 2124.0,2135.3" fill="#73D8FF" fill-opacity="0.5"/><polyline points="1547.3,2090.0 1552.9,2090.0 1558.5,2090.0 1564.1,2090.0 1569.7,2090.0 1575.3,2090.0 1580.9,2090.0 1586.5,2090.0 1592.1,2090.0 1597.7,2090.0 1603.3,2090.0 1608.9,2090.0 1614.5,2090.0 1620.1,2090.0 1625.7,2090.0 1631.3,2090.0 1636.9,2090.0 1642.5,2090.0 1648.1,2090.0 1653.7,2090.0 1659.3,2090.0 1664.9,2090.0 1670.5,2090.0 1676.1,2090.0 1681.7,2090.0 1687.3,2090.0 1692.9,2090.0 1698.5,2090.0 1704.1,2090.0 1709.7,2090.0 1715.3,2090.0 1720.9,2090.0 1726.5,2090.0 1732.1,2090.0 1737.7,2090.0 1743.3,2090.0 1748.9,2090.0 1754.5,2090.0 1760.1,2090.0 1765.7,2090.0 1771.3,2090.0 1776.9,2090.0 1782.5,2090.0 1788.1,2090.0 1793.7,2090.0 1799.3,2090.0 1804.9,2090.0 1810.5,2090.0 1816.1,2090.0 1821.7,2090.0 1827.3,2090.0 1832.9,2090.0 1838.4,2090.0 1844.0,2090.0 1849.6,2090.0 1855.2,2090.0 1860.8,2090.0 1866.4,2090.0 1872.0,2090.0 1877.6,2090.0 1883.2,2090.0 1888.8,2090.0 1894.4,2090.0 1900.0,2090.0 1905.6,2090.0 1911.2,2090.0 1916.8,2090.0 1922.4,2090.0 1928.0,2090.0 1933.6,2090.0 1939.2,2090.0 1944.8,2090.0 1950.4,2090.0 1956.0,2090.0 1961.6,2090.0 1967.2,2090.0 1972.8,2090.0 1978.4,2090.0 1984.0,2090.0 1989.6,2090.0 1995.2,2090.0 2000.8,2090.0 2006.4,2090.0 2012.0,2090.0 2017.6,2090.0 2023.2,2090.0 2028.8,2090.0 2034.4,2090.0 2040.0,2090.0 2045.6,2090.0 2051.2,2090.0 2056.8,2090.0 2062.4,2090.0 2068.0,2090.0 2073.6,2090.0 2079.2,2090.0 2084.8,2090.0 2090.4,2090.0 2096.0,2090.0 2101.6,2090.0 2107.2,2090.0 2112.8,2090.0 2118.4,2090.0 2124.0,2090.0" fill="none" stroke="#73D8FF" stroke-width="2.5" stroke-linejoin="round" marker-start="url(#c7m1)" marker-mid="url(#c7m1)" marker-end="url(#c7m1)"/><polygon points="1547.3,2135.3 1547.3,1873.2 1552.9,1873.2 1558.5,1873.2 1564.1,1873.2 1569.7,1873.2 1575.3,1873.2 1580.9,1873.2 1586.5,1871.7 1592.1,1871.7 1597.7,1871.7 1603.3,1871.7 1608.9,1871.7 1614.5,1871.7 1620.1,1871.6 1625.7,1871.6 1631.3,1871.6 1636.9,1871.6 1642.5,1871.6 1648.1,1871.6 1653.7,1871.6 1659.3,1871.6 1664.9,1871.5 1670.5,1871.5 1676.1,1871.5 1681.7,1871.5 1687.3,1871.5 1692.9,1871.5 1698.5,1871.5 1704.1,1871.5 1709.7,1871.5 1715.3,1871.4 1720.9,1871.4 1726.5,1871.4 1732.1,1871.4 1737.7,1871.4 1743.3,1871.4 1748.9,1871.4 1754.5,1871.4 1760.1,1871.4 1765.7,1871.3 1771.3,1871.3 1776.9,1871.3 1782.5,1871.3 1788.1,1871.3 1793.7,1871.3 1799.3,1871.3 1804.9,1871.3 1810.5,1871.2 1816.1,1871.2 1821.7,1871.2 1827.3,1871.2 1832.9,1871.2 1838.4,1871.2 1844.0,1871.2 1849.6,1871.2 1855.2,1871.2 1860.8,1871.1 1866.4,1871.1 1872.0,1871.1 1877.6,1871.1 1883.2,1871.1 1888.8,1871.1 1894.4,1871.1 1900.0,1871.1 1905.6,1871.0 1911.2,1871.0 1916.8,1871.0 1922.4,1871.0 1928.0,1871.0 1933.6,1871.0 1939.2,1871.0 1944.8,1871.0 1950.4,1871.0 1956.0,1870.9 1961.6,1870.9 1967.2,1870.9 1972.8,1870.9 1978.4,1870.9 1984.0,1870.9 1989.6,1870.9 1995.2,1870.9 2000.8,1870.9 2006.4,1870.8 2012.0,1870.8 2017.6,1870.8 2023.2,1870.8 2028.8,1870.8 2034.4,1870.8 2040.0,1870.8 2045.6,1870.8 2051.2,1870.7 2056.8,1870.7 2062.4,1870.7 2068.0,1870.7 2073.6,1870.7 2079.2,1870.7 2084.8,1870.7 2090.4,1870.7 2096.0,1870.7 2101.6,1870.6 2107.2,1870.6 2112.8,1870.6 2118.4,1870.6 2124.0,1870.6 2124.0,2135.3" fill="#68BC00" fill-opacity="0.5"/><polyline points="1547.3,1873.2 1552.9,1873.2 1558.5,1873.2 1564.1,1873.2 1569.7,1873.2 1575.3,1873.2 1580.9,1873.2 1586.5,1871.7 1592.1,1871.7 1597.7,1871.7 1603.3,1871.7 1608.9,1871.7 1614.5,1871.7 1620.1,1871.6 1625.7,1871.6 1631.3,1871.6 1636.9,1871.6 1642.5,1871.6 1648.1,1871.6 1653.7,1871.6 1659.3,1871.6 1664.9,1871.5 1670.5,1871.5 1676.1,1871.5 1681.7,1871.5 1687.3,1871.5 1692.9,1871.5 1698.5,1871.5 1704.1,1871.5 1709.7,1871.5 1715.3,1871.4 1720.9,1871.4 1726.5,1871.4 1732.1,1871.4 1737.7,1871.4 1743.3,1871.4 1748.9,1871.4 1754.5,1871.4 1760.1,1871.4 1765.7,1871.3 1771.3,1871.3 1776.9,1871.3 1782.5,1871.3 1788.1,1871.3 1793.7,1871.3 1799.3,1871.3 1804.9,1871.3 1810.5,1871.2 1816.1,1871.2 1821.7,1871.2 1827.3,1871.2 1832.9,1871.2 1838.4,1871.2 1844.0,1871.2 1849.6,1871.2 1855.2,1871.2 1860.8,1871.1 1866.4,1871.1 1872.0,1871.1 1877.6,1871.1 1883.2,1871.1 1888.8,1871.1 1894.4,1871.1 1900.0,1871.1 1905.6,1871.0 1911.2,1871.0 1916.8,1871.0 1922.4,1871.0 1928.0,1871.0 1933.6,1871.0 1939.2,1871.0 1944.8,1871.0 1950.4,1871.0 1956.0,1870.9 1961.6,1870.9 1967.2,1870.9 1972.8,1870.9 1978.4,1870.9 1984.0,1870.9 1989.6,1870.9 1995.2,1870.9 2000.8,1870.9 2006.4,1870.8 2012.0,1870.8 2017.6,1870.8 2023.2,1870.8 2028.8,1870.8 2034.4,1870.8 2040.0,1870.8 2045.6,1870.8 2051.2,1870.7 2056.8,1870.7 2062.4,1870.7 2068.0,1870.7 2073.6,1870.7 2079.2,1870.7 2084.8,1870.7 2090.4,1870.7 2096.0,1870.7 2101.6,1870.6 2107.2,1870.6 2112.8,1870.6 2118.4,1870.6 2124.0,1870.6" fill="none" stroke="#68BC00" stroke-width="2.5" stroke-linejoin="round" marker-start="url(#c7m2)" marker-mid="url(#c7m2)" marker-end="url(#c7m2)"/><polygon points="1547.3,2135.3 1547.3,1890.1 1552.9,1890.1 1558.5,1892.2 1564.1,1892.2 1569.7,1892.2 1575.3,1892.2 1580.9,1892.2 1586.5,1892.2 1592.1,1892.2 1597.7,1892.2 1603.3,1892.2 1608.9,1892.2 1614.5,1892.2 1620.1,1892.2 1625.7,1892.2 1631.3,1891.9 1636.9,1891.7 1642.5,1891.4 1648.1,1891.1 1653.7,1890.8 1659.3,1890.6 1664.9,1890.3 1670.5,1890.0 1676.1,1890.0 1681.7,1890.0 1687.3,1890.0 1692.9,1889.9 1698.5,1889.9 1704.1,1889.9 1709.7,1889.9 1715.3,1889.9 1720.9,1889.9 1726.5,1889.9 1732.1,1889.9 1737.7,1889.8 1743.3,1889.8 1748.9,1889.8 1754.5,1889.8 1760.1,1889.8 1765.7,1889.8 1771.3,1889.8 1776.9,1889.7 1782.5,1889.7 1788.1,1889.7 1793.7,1889.7 1799.3,1889.7 1804.9,1889.7 1810.5,1889.7 1816.1,1889.7 1821.7,1889.6 1827.3,1889.6 1832.9,1889.6 1838.4,1889.6 1844.0,1889.6 1849.6,1889.6 1855.2,1889.6 1860.8,1889.6 1866.4,1889.5 1872.0,1889.5 1877.6,1889.5 1883.2,1889.5 1888.8,1889.5 1894.4,1889.5 1900.0,1889.5 1905.6,1889.5 1911.2,1889.4 1916.8,1889.4 1922.4,1889.4 1928.0,1889.4 1933.6,1889.4 1939.2,1889.4 1944.8,1889.4 1950.4,1889.3 1956.0,1889.3 1961.6,1889.3 1967.2,1889.3 1972.8,1889.3 1978.4,1889.3 1984.0,1889.3 1989.6,1889.3 1995.2,1889.2 2000.8,1889.2 2006.4,1889.2 2012.0,1889.2 2017.6,1889.2 2023.2,1889.2 2028.8,1889.2 2034.4,1889.2 2040.0,1889.1 2045.6,1889.1 2051.2,1889.1 2056.8,1889.1 2062.4,1889.1 2068.0,1889.1 2073.6,1889.1 2079.2,1889.0 2084.8,1889.0 2090.4,1889.0 2096.0,1889.0 2101.6,1889.0 2107.2,1889.0 2112.8,1889.0 2118.4,1889.0 2124.0,1888.9 2124.0,2135.3" fill="#9F0500" fill-opacity="0.5"/><polyline points="1547.3,1890.1 1552.9,1890.1 1558.5,1892.2 1564.1,1892.2 1569.7,1892.2 1575.3,1892.2 1580.9,1892.2 1586.5,1892.2 1592.1,1892.2 1597.7,1892.2 1603.3,1892.2 1608.9,1892.2 1614.5,1892.2 1620.1,1892.2 1625.7,1892.2 1631.3,1891.9 1636.9,1891.7 1642.5,1891.4 1648.1,1891.1 1653.7,1890.8 1659.3,1890.6 1664.9,1890.3 1670.5,1890.0 1676.1,1890.0 1681.7,1890.0 1687.3,1890.0 1692.9,1889.9 1698.5,1889.9 1704.1,1889.9 1709.7,1889.9 1715.3,1889.9 1720.9,1889.9 1726.5,1889.9 1732.1,1889.9 1737.7,1889.8 1743.3,1889.8 1748.9,1889.8 1754.5,1889.8 1760.1,1889.8 1765.7,1889.8 1771.3,1889.8 1776.9,1889.7 1782.5,1889.7 1788.1,1889.7 1793.7,1889.7 1799.3,1889.7 1804.9,1889.7 1810.5,1889.7 1816.1,1889.7 1821.7,1889.6 1827.3,1889.6 1832.9,1889.6 1838.4,1889.6 1844.0,1889.6 1849.6,1889.6 1855.2,1889.6 1860.8,1889.6 1866.4,1889.5 1872.0,1889.5 1877.6,1889.5 1883.2,1889.5 1888.8,1889.5 1894.4,1889.5 1900.0,1889.5 1905.6,1889.5 1911.2,1889.4 1916.8,1889.4 1922.4,1889.4 1928.0,1889.4 1933.6,1889.4 1939.2,1889.4 1944.8,1889.4 1950.4,1889.3 1956.0,1889.3 1961.6,1889.3 1967.2,1889.3 1972.8,1889.3 1978.4,1889.3 1984.0,1889.3 1989.6,1889.3 1995.2,1889.2 2000.8,1889.2 2006.4,1889.2 2012.0,1889.2 2017.6,1889.2 2023.2,1889.2 2028.8,1889.2 2034.4,1889.2 2040.0,1889.1 2045.6,1889.1 2051.2,1889.1 2056.8,1889.1 2062.4,1889.1 2068.0,1889.1 2073.6,1889.1 2079.2,1889.0 2084.8,1889.0 2090.4,1889.0 2096.0,1889.0 2101.6,1889.0 2107.2,1889.0 2112.8,1889.0 2118.4,1889.0 2124.0,1888.9" fill="none" stroke="#9F0500" stroke-width="2.5" stroke-linejoin="round" marker-start="url(#c7m3)" marker-mid="url(#c7m3)" marker-end="url(#c7m3)"/></svg>
<span class="t" style="left:136.0px;top:397.0px;font-size:27.6px;color:#999;letter-spacing:-0.88px;">0B</span>
<span class="t" style="left:59.4px;top:337.9px;font-size:27.6px;color:#999;letter-spacing:-0.17px;">9.537MB</span>
<span class="t" style="left:47.6px;top:278.8px;font-size:27.6px;color:#999;letter-spacing:-0.66px;">19.073MB</span>
<span class="t" style="left:63.8px;top:219.7px;font-size:27.6px;color:#999;letter-spacing:-0.90px;">28.61MB</span>
<span class="t" style="left:47.6px;top:160.6px;font-size:27.6px;color:#999;letter-spacing:-0.66px;">38.147MB</span>
<span class="t" style="left:43.2px;top:101.4px;font-size:27.6px;color:#999;letter-spacing:-0.03px;">47.684MB</span>
<svg class="ch" style="left:821.5px;top:119.0px" width="40" height="40" viewBox="-20 -20 40 40"><path d="M-4.9 -9.8L4.9 0L-4.9 9.8" fill="none" stroke="#414141" stroke-width="1.9" stroke-linecap="round" stroke-linejoin="round"/></svg>
<svg class="ch" style="left:871.8px;top:105.8px" width="425.0" height="259.2" viewBox="2238.0 1828.8 425.0 259.2"><path d="M2238.0 1832.8H2663.0M2238.0 1895.6H2663.0M2238.0 1958.4H2663.0M2238.0 2021.2H2663.0M2238.0 2084.0H2663.0" stroke="#c6c6c6" stroke-width="2.4" fill="none"/></svg>
<div class="dot" style="left:891.5px;top:131.8px;background:#9F0500"></div>
<span class="t" style="left:931.1px;top:124.2px;font-size:31px;color:#343741;letter-spacing:0.57px;">Used</span>
<span class="t" style="left:1136.0px;top:124.2px;font-size:31px;color:#4d4d4d;font-weight:700;letter-spacing:1.11px;">39.722MB</span>
<div class="dot" style="left:891.5px;top:194.6px;background:#68BC00"></div>
<span class="t" style="left:931.1px;top:187.0px;font-size:31px;color:#343741;letter-spacing:0.83px;">Committed</span>
<span class="t" style="left:1134.2px;top:187.0px;font-size:31px;color:#4d4d4d;font-weight:700;letter-spacing:1.37px;">42.688MB</span>
<div class="dot" style="left:891.5px;top:257.4px;background:#73D8FF"></div>
<span class="t" style="left:931.1px;top:249.8px;font-size:31px;color:#343741;letter-spacing:1.04px;">Init</span>
<span class="t" style="left:1163.6px;top:249.8px;font-size:31px;color:#4d4d4d;font-weight:700;letter-spacing:-0.43px;">7.313MB</span>
<div class="dot" style="left:891.5px;top:320.2px;background:#E27300"></div>
<span class="t" style="left:931.1px;top:312.6px;font-size:31px;color:#343741;letter-spacing:1.36px;">Max</span>
<span class="t" style="left:1236.8px;top:312.6px;font-size:31px;color:#4d4d4d;font-weight:700;">-1B</span>
</section>
<section class="panel" style="left:2740.2px;top:1720px;width:1050.3px;height:610.0px">
<span class="t" style="left:18.7px;top:20.0px;font-size:31.5px;color:#1a1c21;font-weight:700;letter-spacing:-0.36px;">Cache Size</span>
<svg class="ch" style="left:164.0px;top:108.7px" width="793.7" height="290.7" viewBox="2907.2 1831.7 793.7 290.7"><defs><marker id="c8m0" markerWidth="10" markerHeight="10" refX="5" refY="5" markerUnits="userSpaceOnUse"><circle cx="5" cy="5" r="2.5" fill="#fff" stroke="#FE9200" stroke-width="2.5"/></marker><marker id="c8m1" markerWidth="10" markerHeight="10" refX="5" refY="5" markerUnits="userSpaceOnUse"><circle cx="5" cy="5" r="2.5" fill="#fff" stroke="#68BC00" stroke-width="2.5"/></marker></defs><path d="M3036.0 1838.5V2115.7M3262.5 1838.5V2115.7M3489.0 1838.5V2115.7M2913.9 2059.5H3694.2M2913.9 2004.5H3694.2M2913.9 1949.6H3694.2M2913.9 1894.6H3694.2" stroke="#e2e3ea" stroke-width="2.4" fill="none"/><rect x="2913.9" y="1838.5" width="780.2" height="277.2" fill="none" stroke="#e2e3ea" stroke-width="2.5"/><polygon points="2915.2,2114.4 2915.2,1889.4 2922.8,1889.4 2930.3,1889.4 2937.9,1889.4 2945.4,1889.4 2953.0,1889.4 2960.5,1889.4 2968.1,1889.4 2975.6,1889.4 2983.2,1889.4 2990.7,1889.4 2998.3,1889.4 3005.8,1889.4 3013.4,1889.4 3020.9,1889.4 3028.5,1889.4 3036.0,1889.4 3043.6,1889.4 3051.1,1889.4 3058.7,1889.4 3066.2,1889.4 3073.8,1889.4 3081.3,1889.4 3088.9,1889.4 3096.4,1889.4 3104.0,1889.4 3111.5,1889.4 3119.1,1889.4 3126.6,1889.4 3134.2,1889.4 3141.7,1889.4 3149.3,1889.4 3156.8,1889.4 3164.4,1889.4 3171.9,1889.4 3179.5,1889.4 3187.0,1889.4 3194.6,1889.4 3202.1,1889.4 3209.7,1889.4 3217.2,1889.4 3224.8,1889.4 3232.3,1889.4 3239.9,1889.4 3247.4,1889.4 3255.0,1889.4 3262.5,1889.4 3270.1,1889.4 3277.6,1889.4 3285.2,1889.4 3292.7,1889.4 3300.3,1889.4 3307.8,1889.4 3315.4,1889.4 3322.9,1889.4 3330.5,1889.4 3338.0,1889.4 3345.6,1889.4 3353.1,1889.4 3360.7,1889.4 3368.2,1889.4 3375.8,1889.4 3383.3,1889.4 3390.9,1889.4 3398.4,1889.4 3406.0,1889.4 3413.5,1889.4 3421.1,1889.4 3428.6,1889.4 3436.2,1889.4 3443.7,1889.4 3451.3,1889.4 3458.8,1889.4 3466.4,1889.4 3473.9,1889.4 3481.5,1889.4 3489.0,1889.4 3496.6,1889.4 3504.1,1889.4 3511.7,1889.4 3519.2,1889.4 3526.8,1889.4 3534.3,1889.4 3541.9,1889.4 3549.4,1889.4 3557.0,1889.4 3564.5,1889.4 3572.1,1889.4 3579.6,1889.4 3587.2,1889.4 3594.7,1889.4 3602.3,1889.4 3609.8,1889.4 3617.4,1889.4 3624.9,1889.4 3632.5,1889.4 3640.0,1889.4 3647.6,1889.4 3655.1,1889.4 3662.7,1889.4 3670.2,1889.4 3677.8,1889.4 3685.3,1889.4 3692.9,1889.4 3692.9,2114.4" fill="#FE9200" fill-opacity="0.5"/><polyline points="2915.2,1889.4 2922.8,1889.4 2930.3,1889.4 2937.9,1889.4 2945.4,1889.4 2953.0,1889.4 2960.5,1889.4 2968.1,1889.4 2975.6,1889.4 2983.2,1889.4 2990.7,1889.4 2998.3,1889.4 3005.8,1889.4 3013.4,1889.4 3020.9,1889.4 3028.5,1889.4 3036.0,1889.4 3043.6,1889.4 3051.1,1889.4 3058.7,1889.4 3066.2,1889.4 3073.8,1889.4 3081.3,1889.4 3088.9,1889.4 3096.4,1889.4 3104.0,1889.4 3111.5,1889.4 3119.1,1889.4 3126.6,1889.4 3134.2,1889.4 3141.7,1889.4 3149.3,1889.4 3156.8,1889.4 3164.4,1889.4 3171.9,1889.4 3179.5,1889.4 3187.0,1889.4 3194.6,1889.4 3202.1,1889.4 3209.7,1889.4 3217.2,1889.4 3224.8,1889.4 3232.3,1889.4 3239.9,1889.4 3247.4,1889.4 3255.0,1889.4 3262.5,1889.4 3270.1,1889.4 3277.6,1889.4 3285.2,1889.4 3292.7,1889.4 3300.3,1889.4 3307.8,1889.4 3315.4,1889.4 3322.9,1889.4 3330.5,1889.4 3338.0,1889.4 3345.6,1889.4 3353.1,1889.4 3360.7,1889.4 3368.2,1889.4 3375.8,1889.4 3383.3,1889.4 3390.9,1889.4 3398.4,1889.4 3406.0,1889.4 3413.5,1889.4 3421.1,1889.4 3428.6,1889.4 3436.2,1889.4 3443.7,1889.4 3451.3,1889.4 3458.8,1889.4 3466.4,1889.4 3473.9,1889.4 3481.5,1889.4 3489.0,1889.4 3496.6,1889.4 3504.1,1889.4 3511.7,1889.4 3519.2,1889.4 3526.8,1889.4 3534.3,1889.4 3541.9,1889.4 3549.4,1889.4 3557.0,1889.4 3564.5,1889.4 3572.1,1889.4 3579.6,1889.4 3587.2,1889.4 3594.7,1889.4 3602.3,1889.4 3609.8,1889.4 3617.4,1889.4 3624.9,1889.4 3632.5,1889.4 3640.0,1889.4 3647.6,1889.4 3655.1,1889.4 3662.7,1889.4 3670.2,1889.4 3677.8,1889.4 3685.3,1889.4 3692.9,1889.4" fill="none" stroke="#FE9200" stroke-width="2.5" stroke-linejoin="round" marker-start="url(#c8m0)" marker-mid="url(#c8m0)" marker-end="url(#c8m0)"/><polygon points="2915.2,2114.4 2915.2,2113.1 2922.8,2113.1 2930.3,2113.1 2937.9,2113.1 2945.4,2113.1 2953.0,2113.1 2960.5,2113.1 2968.1,2113.1 2975.6,2113.1 2983.2,2113.1 2990.7,2113.1 2998.3,2113.1 3005.8,2113.1 3013.4,2113.1 3020.9,2113.1 3028.5,2113.1 3036.0,2113.1 3043.6,2113.1 3051.1,2113.1 3058.7,2113.1 3066.2,2113.1 3073.8,2113.1 3081.3,2113.1 3088.9,2113.1 3096.4,2113.1 3104.0,2113.1 3111.5,2113.1 3119.1,2113.1 3126.6,2113.1 3134.2,2113.1 3141.7,2113.1 3149.3,2113.1 3156.8,2113.1 3164.4,2113.1 3171.9,2113.1 3179.5,2113.1 3187.0,2113.1 3194.6,2113.1 3202.1,2113.1 3209.7,2113.1 3217.2,2113.1 3224.8,2113.1 3232.3,2113.1 3239.9,2113.1 3247.4,2113.1 3255.0,2113.1 3262.5,2113.1 3270.1,2113.1 3277.6,2113.1 3285.2,2113.1 3292.7,2113.1 3300.3,2113.1 3307.8,2113.1 3315.4,2113.1 3322.9,2113.1 3330.5,2113.1 3338.0,2113.1 3345.6,2113.1 3353.1,2113.1 3360.7,2113.1 3368.2,2113.1 3375.8,2113.1 3383.3,2113.1 3390.9,2113.1 3398.4,2113.1 3406.0,2113.1 3413.5,2113.1 3421.1,2113.1 3428.6,2113.1 3436.2,2113.1 3443.7,2113.1 3451.3,2113.1 3458.8,2113.1 3466.4,2113.1 3473.9,2113.1 3481.5,2113.1 3489.0,2113.1 3496.6,2113.1 3504.1,2113.1 3511.7,2113.1 3519.2,2113.1 3526.8,2113.1 3534.3,2113.1 3541.9,2113.1 3549.4,2113.1 3557.0,2113.1 3564.5,2113.1 3572.1,2113.1 3579.6,2113.1 3587.2,2113.1 3594.7,2113.1 3602.3,2113.1 3609.8,2113.1 3617.4,2113.1 3624.9,2113.1 3632.5,2113.1 3640.0,2113.1 3647.6,2113.1 3655.1,2113.1 3662.7,2113.1 3670.2,2113.1 3677.8,2113.1 3685.3,2113.1 3692.9,2113.1 3692.9,2114.4" fill="#68BC00" fill-opacity="0.5"/><polyline points="2915.2,2113.1 2922.8,2113.1 2930.3,2113.1 2937.9,2113.1 2945.4,2113.1 2953.0,2113.1 2960.5,2113.1 2968.1,2113.1 2975.6,2113.1 2983.2,2113.1 2990.7,2113.1 2998.3,2113.1 3005.8,2113.1 3013.4,2113.1 3020.9,2113.1 3028.5,2113.1 3036.0,2113.1 3043.6,2113.1 3051.1,2113.1 3058.7,2113.1 3066.2,2113.1 3073.8,2113.1 3081.3,2113.1 3088.9,2113.1 3096.4,2113.1 3104.0,2113.1 3111.5,2113.1 3119.1,2113.1 3126.6,2113.1 3134.2,2113.1 3141.7,2113.1 3149.3,2113.1 3156.8,2113.1 3164.4,2113.1 3171.9,2113.1 3179.5,2113.1 3187.0,2113.1 3194.6,2113.1 3202.1,2113.1 3209.7,2113.1 3217.2,2113.1 3224.8,2113.1 3232.3,2113.1 3239.9,2113.1 3247.4,2113.1 3255.0,2113.1 3262.5,2113.1 3270.1,2113.1 3277.6,2113.1 3285.2,2113.1 3292.7,2113.1 3300.3,2113.1 3307.8,2113.1 3315.4,2113.1 3322.9,2113.1 3330.5,2113.1 3338.0,2113.1 3345.6,2113.1 3353.1,2113.1 3360.7,2113.1 3368.2,2113.1 3375.8,2113.1 3383.3,2113.1 3390.9,2113.1 3398.4,2113.1 3406.0,2113.1 3413.5,2113.1 3421.1,2113.1 3428.6,2113.1 3436.2,2113.1 3443.7,2113.1 3451.3,2113.1 3458.8,2113.1 3466.4,2113.1 3473.9,2113.1 3481.5,2113.1 3489.0,2113.1 3496.6,2113.1 3504.1,2113.1 3511.7,2113.1 3519.2,2113.1 3526.8,2113.1 3534.3,2113.1 3541.9,2113.1 3549.4,2113.1 3557.0,2113.1 3564.5,2113.1 3572.1,2113.1 3579.6,2113.1 3587.2,2113.1 3594.7,2113.1 3602.3,2113.1 3609.8,2113.1 3617.4,2113.1 3624.9,2113.1 3632.5,2113.1 3640.0,2113.1 3647.6,2113.1 3655.1,2113.1 3662.7,2113.1 3670.2,2113.1 3677.8,2113.1 3685.3,2113.1 3692.9,2113.1" fill="none" stroke="#68BC00" stroke-width="2.5" stroke-linejoin="round" marker-start="url(#c8m1)" marker-mid="url(#c8m1)" marker-end="url(#c8m1)"/></svg>
<span class="t" style="left:126.5px;top:376.1px;font-size:27.6px;color:#999;letter-spacing:-0.88px;">0B</span>
<span class="t" style="left:58.4px;top:321.2px;font-size:27.6px;color:#999;letter-spacing:-0.83px;">2.441KB</span>
<span class="t" style="left:54.0px;top:266.3px;font-size:27.6px;color:#999;letter-spacing:-0.10px;">4.883KB</span>
<span class="t" style="left:54.0px;top:211.3px;font-size:27.6px;color:#999;letter-spacing:-0.10px;">7.324KB</span>
<span class="t" style="left:54.0px;top:156.4px;font-size:27.6px;color:#999;letter-spacing:-0.10px;">9.766KB</span>
<span class="t" style="left:42.3px;top:101.4px;font-size:27.6px;color:#999;letter-spacing:-0.60px;">12.207KB</span>
<span class="t" style="left:238.3px;top:407.2px;font-size:27.6px;color:#999;letter-spacing:0.21px;">16:30:00</span>
<span class="t" style="left:464.9px;top:407.2px;font-size:27.6px;color:#999;letter-spacing:0.21px;">16:35:00</span>
<span class="t" style="left:691.4px;top:407.2px;font-size:27.6px;color:#999;letter-spacing:0.21px;">16:40:00</span>
</section>
</main>
<div class="chrome">
<div class="ab" style="left:120px;top:437px;width:3690px;height:3px;background:#d3dae6"></div>
<span class="t" style="left:139.7px;top:152.6px;font-size:36.5px;color:#006bb4;letter-spacing:0.33px;-webkit-text-stroke:0.55px currentColor;">Full screen</span>
<span class="t" style="left:359.9px;top:152.6px;font-size:36.5px;color:#006bb4;letter-spacing:0.35px;-webkit-text-stroke:0.55px currentColor;">Share</span>
<span class="t" style="left:496.9px;top:152.6px;font-size:36.5px;color:#006bb4;letter-spacing:0.98px;-webkit-text-stroke:0.55px currentColor;">Clone</span>
<span class="t" style="left:633.9px;top:152.6px;font-size:36.5px;color:#006bb4;letter-spacing:0.96px;-webkit-text-stroke:0.55px currentColor;">Edit</span>
<div class="ab" style="left:140px;top:227px;width:2135px;height:100px;background:#fbfcfd;border:2.5px solid #e1e4ea;box-shadow:0 5px 5px -2.5px rgba(152,162,179,.3)"></div>
<div class="ab" style="left:142.5px;top:229.5px;width:149px;height:95px;background:#f5f7fa;border-right:2.5px solid #e1e4ea"></div>
<span class="t" style="left:161.9px;top:258.9px;font-size:36.5px;color:#343741;font-weight:700;letter-spacing:0.04px;">Filters</span>
<span class="t" style="left:321.9px;top:258.9px;font-size:36.5px;color:#69707d;letter-spacing:0.03px;">Search</span>
<span class="t" style="left:2183.7px;top:259.2px;font-size:35px;color:#006bb4;letter-spacing:-1.30px;">KQL</span>
<div class="ab" style="left:2294.7px;top:227px;width:1160.3px;height:100px;background:#fbfcfd;border:2.5px solid #e1e4ea;box-shadow:0 5px 5px -2.5px rgba(152,162,179,.3)"></div>
<div class="ab" style="left:2427.5px;top:229.5px;width:2.5px;height:95px;background:#e1e4ea"></div>
<span class="t" style="left:2471.9px;top:258.3px;font-size:36.5px;color:#343741;letter-spacing:-0.82px;">Oct 11, 2019 @ 16:27:25.9</span>
<span class="t" style="left:2993.7px;top:258.3px;font-size:36.5px;color:#343741;letter-spacing:-0.71px;">Oct 11, 2019 @ 16:44:47.09</span>
<svg class="ch" style="left:2921.0px;top:258.0px" width="40" height="40" viewBox="0 0 16 16" ><path d="M3 8h10M9.2 4.2L13 8l-3.8 3.8" fill="none" stroke="#69707d" stroke-width="1" /></svg>
<svg class="ch" style="left:2318.0px;top:257.0px" width="40" height="40" viewBox="0 0 16 16" ><g fill="none" stroke="#006bb4" stroke-width="1"><rect x="1.5" y="2.5" width="13" height="12" rx="1.5"/><path d="M1.5 5.5h13M5 .8v3M11 .8v3"/></g><g fill="#006bb4"><rect x="4" y="7.4" width="2" height="1"/><rect x="7" y="7.4" width="2" height="1"/><rect x="10" y="7.4" width="2" height="1"/><rect x="4" y="9.4" width="2" height="1"/><rect x="7" y="9.4" width="2" height="1"/><rect x="10" y="9.4" width="2" height="1"/><rect x="4" y="11.4" width="2" height="1"/><rect x="7" y="11.4" width="2" height="1"/><rect x="10" y="11.4" width="2" height="1"/></g></svg>
<svg class="ch" style="left:2368.0px;top:257.3px" width="40" height="40" viewBox="-20 -20 40 40"><path d="M-13.8 -6.9L0 6.9L13.8 -6.9" fill="none" stroke="#006bb4" stroke-width="2.6" stroke-linecap="round" stroke-linejoin="round"/></svg>
<div class="ab" style="left:3495px;top:227px;width:295.3px;height:100px;background:#006bb4;border-radius:10px;box-shadow:0 5px 5px -2.5px rgba(0,107,180,.3),0 2.5px 12px -4px rgba(0,107,180,.25)"></div>
<svg class="ch" style="left:3540.0px;top:256.0px" width="40" height="40" viewBox="0 0 16 16" ><path d="M13.6 7.6A5.6 5.6 0 1 1 9.9 2.9M13.2 1.6v3.9H9.3" fill="none" stroke="#fff" stroke-width="1"/></svg>
<span class="t" style="left:3601.4px;top:254.8px;font-size:41.5px;color:#fff;letter-spacing:-0.35px;-webkit-text-stroke:0.55px currentColor;">Refresh</span>
<div class="ab" style="left:170px;top:327px;width:3px;height:25px;background:#d3dae6"></div>
<div class="ab" style="left:205px;top:384px;width:25px;height:2.5px;background:#d3dae6"></div>
<span class="t" style="left:252.9px;top:364.4px;font-size:36.5px;color:#006bb4;letter-spacing:0.94px;">+ Add filter</span>
<div class="ab" style="left:0;top:0;width:3810px;height:123px;background:#fff;border-bottom:3px solid #d3dae6;box-shadow:0 5px 5px -2.5px rgba(152,162,179,.3),0 2.5px 12.5px -5px rgba(152,162,179,.3)"></div>
<div class="ab" style="left:120px;top:40px;width:3px;height:80px;background:#d3dae6"></div>
<div class="ab" style="left:240px;top:40px;width:3px;height:80px;background:#d3dae6"></div>
<div class="ab" style="left:3690px;top:40px;width:3px;height:80px;background:#d3dae6"></div>
<div class="ab" style="left:153px;top:30px;width:60px;height:60px;background:#00bfb3;border-radius:10px"></div>
<span class="t" style="left:171.9px;top:44.2px;font-size:30.3px;color:#000;">D</span>
<span class="t" style="left:282.8px;top:40.8px;font-size:37.5px;color:#69707d;letter-spacing:-0.57px;">Dashboard</span>
<div class="ab" style="left:481.7px;top:40px;width:2.6px;height:40px;background:#d3dae6;transform:rotate(15deg)"></div>
<span class="t" style="left:507.1px;top:40.8px;font-size:37.5px;color:#343741;letter-spacing:0.43px;-webkit-text-stroke:0.55px currentColor;">[Metricbeat Tomcat] Overview</span>
<div class="ab" style="left:0;top:123px;width:120px;height:2030px;background:#fff;box-shadow:2.5px 0 5px rgba(65,78,101,.07),5px 0 15px rgba(65,78,101,.07);clip-path:inset(0 -40px 0 0)"></div>
<div class="ab" style="left:0;top:244.5px;width:120px;height:3px;background:#d3dae6"></div>
<div class="ab" style="left:20px;top:467px;width:80px;height:80px;background:#f5f7fa;border-radius:10px"></div>
<div class="ab" style="left:0;top:2058px;width:120px;height:90px;background:#fff;box-shadow:0 -8px 16px -4px rgba(152,162,179,.28)"></div>
<div class="ab" style="left:3810px;top:0;width:26px;height:2148px;background:#f1f1f1"></div>
<div class="ab" style="left:3811.7px;top:30px;width:25px;height:1928.5px;background:#c1c1c1"></div>
<div class="ab" style="left:3810px;top:2130px;width:26px;height:18px;background:#d2d2d2"></div>
<svg class="ch" style="left:3810.0px;top:0.0px" width="26" height="30" viewBox="0 0 26 30" ><path d="M8 19L15.2 11.8L22.4 19z" fill="#a3a3a3"/></svg>
<svg class="ch" style="left:3810.0px;top:2130.0px" width="26" height="18" viewBox="0 0 26 18" ><path d="M8 10.9h14.4L15.2 18.1z" fill="#505050"/></svg>
<svg class="ch" style="left:30.0px;top:27.0px" width="60" height="60" viewBox="0 0 32 32" ><path fill="#F04E98" d="M4 0v28.789L28.935.017z"/><path fill="#343741" d="M4 12v16.789l11.906-13.738A24.721 24.721 0 0 0 4 12"/><path fill="#00BFB3" d="M18.479 16.664L6.268 30.754l-1.073 1.237h23.191c-1.252-6.292-4.883-11.719-9.908-15.327"/></svg>
<svg class="ch" style="left:3730.0px;top:40.0px" width="40" height="40" viewBox="0 0 40 40" ><circle cx="20" cy="20" r="18.75" fill="none" stroke="#343741" stroke-width="2.5"/><circle cx="20" cy="20" r="11" fill="none" stroke="#343741" stroke-width="2.5"/><path d="M12.08 12.08L7.13 7.13M12.08 27.92L7.13 32.87M27.92 12.08L32.87 7.13M27.92 27.92L32.87 32.87" fill="none" stroke="#343741" stroke-width="6.5" /></svg>
<svg class="ch" style="left:150.0px;top:367.0px" width="40" height="40" viewBox="0 0 40 40" ><path d="M24.09 1.55L15.91 1.55L12.90 7.70L6.07 7.23L1.97 14.32L5.80 20.00L1.97 25.68L6.07 32.77L12.90 32.30L15.91 38.45L24.09 38.45L27.10 32.30L33.93 32.77L38.03 25.68L34.20 20.00L38.03 14.32L33.93 7.23L27.10 7.70Z" fill="none" stroke="#343741" stroke-width="2.5" stroke-linejoin="round"/><circle cx="20" cy="20" r="6" fill="none" stroke="#343741" stroke-width="2.5"/></svg>
<svg class="ch" style="left:38.7px;top:162.7px" width="40" height="40" viewBox="0 0 40 40" ><circle cx="20" cy="20" r="15" fill="none" stroke="#343741" stroke-width="2.5"/><path d="M19.7 9.5V20.3H29" fill="none" stroke="#343741" stroke-width="2.5" stroke-linecap="round" stroke-linejoin="round"/></svg>
<svg class="ch" style="left:40.0px;top:287.0px" width="40" height="40" viewBox="0 0 32 32" ><path fill="#017d73" d="M8.33 23.67l4.79-10.55 10.55-4.79-4.79 10.55-10.55 4.79zm6.3-9l-2.28 5 5-2.28 2.28-5-5 2.28z"/><path fill="#343741" d="M16 0C7.163 0 0 7.163 0 16s7.163 16 16 16 16-7.163 16-16A16 16 0 0 0 16 0zm1 29.95V28h-2v1.95A14 14 0 0 1 2.05 17H4v-2H2.05A14 14 0 0 1 15 2.05V4h2V2.05A14 14 0 0 1 29.95 15H28v2h1.95A14 14 0 0 1 17 29.95z"/></svg>
<svg class="ch" style="left:40.0px;top:387.0px" width="40" height="40" viewBox="0 0 32 32" ><path fill="#017d73" d="M32 32H4a4 4 0 0 1-4-4V0h2v28a2 2 0 0 0 2 2h28v2z"/><path fill="#343741" d="M6 20h2v7H6zM16 12h2v15h-2zM26 17h2v10h-2z"/><path fill="#343741" d="M27 6a3 3 0 0 0-2.08.84L20 4.36A2.2 2.2 0 0 0 20 4a3 3 0 0 0-6 0c.001.341.062.68.18 1l-5.6 4.46A3 3 0 0 0 7 9a3 3 0 1 0 3 3 2.93 2.93 0 0 0-.18-1l5.6-4.48A3 3 0 0 0 17 7a3 3 0 0 0 2.08-.84L24 8.64A2.2 2.2 0 0 0 24 9a3 3 0 1 0 3-3zM7 13a1 1 0 1 1 0-2 1 1 0 0 1 0 2zm10-8a1 1 0 1 1 0-2 1 1 0 0 1 0 2zm10 5a1 1 0 1 1 0-2 1 1 0 0 1 0 2z"/></svg>
<svg class="ch" style="left:40.0px;top:487.0px" width="40" height="40" viewBox="0 0 32 32" ><path fill="#343741" d="M29 9H3a3 3 0 0 1-3-3V3a3 3 0 0 1 3-3h26a3 3 0 0 1 3 3v3a3 3 0 0 1-3 3zM3 2a1 1 0 0 0-1 1v3a1 1 0 0 0 1 1h26a1 1 0 0 0 1-1V3a1 1 0 0 0-1-1H3z"/><path fill="#017d73" d="M12 20H3a3 3 0 0 1-3-3v-3a3 3 0 0 1 3-3h9a3 3 0 0 1 3 3v3a3 3 0 0 1-3 3zm-9-7a1 1 0 0 0-1 1v3a1 1 0 0 0 1 1h9a1 1 0 0 0 1-1v-3a1 1 0 0 0-1-1H3z"/><path fill="#343741" d="M12 31H3a3 3 0 0 1-3-3v-3a3 3 0 0 1 3-3h9a3 3 0 0 1 3 3v3a3 3 0 0 1-3 3zm-9-7a1 1 0 0 0-1 1v3a1 1 0 0 0 1 1h9a1 1 0 0 0 1-1v-3a1 1 0 0 0-1-1H3z"/><path fill="#017d73" d="M29 31h-9a3 3 0 0 1-3-3V14a3 3 0 0 1 3-3h9a3 3 0 0 1 3 3v14a3 3 0 0 1-3 3zm-9-18a1 1 0 0 0-1 1v14a1 1 0 0 0 1 1h9a1 1 0 0 0 1-1V14a1 1 0 0 0-1-1h-9z"/></svg>
<svg class="ch" style="left:40.0px;top:587.0px" width="40" height="40" viewBox="0 0 40 40" ><path d="M2 9.4 Q3.6 8.8 5 10 Q8 12.2 11 10 T17 10 T23 10 T29 10 T35 10 Q36.4 8.8 38 9.4 Q39.6 11 37.6 13.5 Q35.6 17.1 37.6 20.7 Q39.6 24 37.6 27.2 Q35.6 30.6 37.6 34 Q39.6 36.6 38 38.2 Q36.4 38.9 35 37.8 Q32 35.6 29 37.8 T23 37.8 T17 37.8 T11 37.8 T5 37.8 Q3.6 38.9 2 38.2 Q0.4 36.6 2.4 34 Q4.4 30.6 2.4 27.2 Q0.4 24 2.4 20.7 Q4.4 17.1 2.4 13.5 Q0.4 11 2 9.4Z" fill="none" stroke="#343741" stroke-width="2.5" stroke-linejoin="round"/><path d="M9.5 10L20 1.6L30.5 10" fill="none" stroke="#343741" stroke-width="2.5" stroke-linejoin="round"/><path fill="#017d73" d="M8.7 21.3h2.5v8.5h-2.5zM15 17.6h2.6v12.2H15zM21.1 20h2.8v9.8h-2.8zM27.2 17.3h4v2.7h-4zM27.2 22.5h4v2.6h-4zM27.2 27.1h4v2.7h-4z"/></svg>
<svg class="ch" style="left:40.0px;top:687.0px" width="40" height="40" viewBox="0 0 40 40" ><path d="M20 27.3C14 20.5 10.2 15.9 10.2 11.1a9.8 9.8 0 0 1 19.6 0C29.8 15.9 26 20.5 20 27.3Z" fill="none" stroke="#343741" stroke-width="2.5" stroke-linejoin="round"/><circle cx="20" cy="11.1" r="3.6" fill="none" stroke="#343741" stroke-width="2.5"/><path d="M10.8 21.6L3.4 24.8L20 32.4L36.6 24.8L29.2 21.6" fill="none" stroke="#017d73" stroke-width="2.5" /><path d="M1.6 31.3L20 39L38.4 31.3" fill="none" stroke="#017d73" stroke-width="2.5" /></svg>
<svg class="ch" style="left:40.0px;top:787.0px" width="40" height="40" viewBox="0 0 40 40" ><path d="M12 10.8L8.3 1.9C21 1.6 28.5 8 31.5 19L37.3 39.3" fill="none" stroke="#343741" stroke-width="2.5" stroke-linejoin="miter"/><path d="M12.9 15.6C21 15.8 26 19 28.6 27.5L31.4 38.2H19.6Z" fill="none" stroke="#017d73" stroke-width="2.5" stroke-linejoin="miter"/><path d="M10.3 21.5L1.9 38.2H14.5" fill="none" stroke="#343741" stroke-width="2.5" /></svg>
<svg class="ch" style="left:40.0px;top:887.0px" width="40" height="40" viewBox="0 0 40 40" ><circle cx="13.75" cy="3.6" r="2.6" fill="none" stroke="#343741" stroke-width="2.5"/><circle cx="13.75" cy="16.1" r="2.6" fill="none" stroke="#343741" stroke-width="2.5"/><circle cx="13.75" cy="36.1" r="2.6" fill="none" stroke="#343741" stroke-width="2.5"/><circle cx="26.25" cy="3.6" r="2.6" fill="none" stroke="#343741" stroke-width="2.5"/><circle cx="26.25" cy="16.1" r="2.6" fill="none" stroke="#343741" stroke-width="2.5"/><circle cx="26.25" cy="36.1" r="2.6" fill="none" stroke="#343741" stroke-width="2.5"/><path d="M7.6 6.6L2 10.4V27.6L7.6 31.6M2.4 27.2C8 25.4 13 25.6 14 22.4" fill="none" stroke="#017d73" stroke-width="2.5" stroke-linejoin="round"/><path d="M32.4 6.6L38 10.4V27.6L32.4 31.6M37.6 27.2C32 25.4 27 25.6 26 22.4" fill="none" stroke="#017d73" stroke-width="2.5" stroke-linejoin="round"/></svg>
<svg class="ch" style="left:40.0px;top:987.0px" width="40" height="40" viewBox="0 0 40 40" ><path d="M8.3 30.6A9.6 9.6 0 0 1 7.4 12.3A10.7 10.7 0 0 1 28.6 11.6C31 12.4 32.6 13.6 34 15.4" fill="none" stroke="#343741" stroke-width="2.5" /><rect x="12.5" y="19.8" width="25.2" height="18.6" fill="none" stroke="#343741" stroke-width="2.5"/><path d="M12.5 29.1H37.7" fill="none" stroke="#343741" stroke-width="2.5" /><path d="M16.5 24.5H21M16.5 33.9H21" fill="none" stroke="#017d73" stroke-width="2.5" /></svg>
<svg class="ch" style="left:40.0px;top:1087.0px" width="40" height="40" viewBox="0 0 40 40" ><path d="M6.8 30.5V6.2A4.2 4.2 0 0 1 11 2H34.6A4.4 4.4 0 0 1 39 6.4V9.2H31.4V5.8A3.6 3.6 0 0 1 35 2.2M31.4 9V34.2A3.8 3.8 0 0 1 27.6 38H5.2A3.8 3.8 0 0 1 1.4 34.2V30.8H24.2V34.4A3.4 3.4 0 0 0 27.6 37.8" fill="none" stroke="#343741" stroke-width="2.5" stroke-linejoin="round"/><path d="M11.2 11.4H26.4M11.2 17.4H26.4M11.2 23.6H26.4" fill="none" stroke="#017d73" stroke-width="2.5" /></svg>
<svg class="ch" style="left:40.0px;top:1187.0px" width="40" height="40" viewBox="0 0 40 40" ><path d="M9.6 14.2H2V1.8H38.2V8.8" fill="none" stroke="#343741" stroke-width="2.5" /><path d="M12 13.6H38.2C38.2 20 33 24.9 26.4 24.9H12Z" fill="none" stroke="#017d73" stroke-width="2.5" /><path d="M23.6 29V38H38.2V29" fill="none" stroke="#343741" stroke-width="2.5" /></svg>
<svg class="ch" style="left:40.0px;top:1287.0px" width="40" height="40" viewBox="0 0 40 40" ><path d="M1.9 26.4A14.7 14.7 0 0 0 31.4 23.6V2.6M23.6 10.2L31.4 2.4L39.2 10.2" fill="none" stroke="#343741" stroke-width="2.5" stroke-linejoin="miter"/><path d="M10 23.6L15.2 28.8L24.2 18.6" fill="none" stroke="#343741" stroke-width="2.5" /><path d="M1.9 20.8A14.7 14.7 0 0 1 4.6 13.9M8.6 10.2A14.7 14.7 0 0 1 16.4 8.9" fill="none" stroke="#017d73" stroke-width="2.5" /></svg>
<svg class="ch" style="left:40.0px;top:1387.0px" width="40" height="40" viewBox="0 0 40 40" ><path d="M11.3 15V10A8.7 8.7 0 0 1 28.7 10V15" fill="none" stroke="#343741" stroke-width="2.5" /><path d="M3.2 18.6H36.8V36.6C26 39.6 14 39.6 3.2 36.6Z" fill="none" stroke="#343741" stroke-width="2.5" stroke-linejoin="miter"/><path d="M11.3 23V30M20 23V32.4M28.7 23V30" fill="none" stroke="#017d73" stroke-width="2.5" /></svg>
<svg class="ch" style="left:40.0px;top:1487.0px" width="40" height="40" viewBox="0 0 40 40" ><circle cx="9.75" cy="19.9" r="3.6" fill="none" stroke="#343741" stroke-width="2.5"/><circle cx="19.75" cy="5.5" r="3.8" fill="none" stroke="#017d73" stroke-width="2.5"/><circle cx="30" cy="19.9" r="3.8" fill="none" stroke="#017d73" stroke-width="2.5"/><circle cx="19.75" cy="34.5" r="3.8" fill="none" stroke="#017d73" stroke-width="2.5"/><path d="M11.8 16.9L15.6 11.4M13.4 19.9H22.4M11.8 22.9L15.6 28.4" fill="none" stroke="#343741" stroke-width="2.5" /></svg>
<svg class="ch" style="left:40.0px;top:1587.0px" width="40" height="40" viewBox="0 0 40 40" ><path d="M15.6 1.4V13H24.4V1.4M15.6 1.6A12.9 12.9 0 0 0 15 24.7V35M24.4 1.6A12.9 12.9 0 0 1 25 24.7V35" fill="none" stroke="#343741" stroke-width="2.5" /><path d="M13.75 38.9H26.25" fill="none" stroke="#017d73" stroke-width="2.5" /></svg>
<svg class="ch" style="left:40.0px;top:1687.0px" width="40" height="40" viewBox="0 0 40 40" ><path d="M3.6 17.6A9.6 9.6 0 0 1 20 7.2A9.6 9.6 0 0 1 36.4 17.6" fill="none" stroke="#343741" stroke-width="2.5" stroke-linejoin="miter"/><path d="M0 22.4H12.8L15 16.6L20 27L24.8 12.2L28.2 22.4H40" fill="none" stroke="#017d73" stroke-width="2.5" stroke-linejoin="miter"/><path d="M11.2 27.6L20 37.2L28.8 27.6" fill="none" stroke="#343741" stroke-width="2.5" /></svg>
<svg class="ch" style="left:40.0px;top:1787.0px" width="40" height="40" viewBox="0 0 40 40" ><path d="M16.20 5.60L16.20 1.40L23.80 1.40L23.80 5.60L27.57 7.16L30.54 4.19L35.91 9.56L32.94 12.53L34.50 16.30L38.70 16.30L38.70 23.90L34.50 23.90L32.94 27.67L35.91 30.64L30.54 36.01L27.57 33.04L23.80 34.60L23.80 38.80L16.20 38.80L16.20 34.60L12.43 33.04L9.46 36.01L4.09 30.64L7.06 27.67L5.50 23.90L1.30 23.90L1.30 16.30L5.50 16.30L7.06 12.53L4.09 9.56L9.46 4.19L12.43 7.16Z" fill="none" stroke="#343741" stroke-width="2.5" stroke-linejoin="miter"/><circle cx="20" cy="20.1" r="5" fill="none" stroke="#017d73" stroke-width="2.5"/></svg>
<svg class="ch" style="left:40.0px;top:2088.0px" width="40" height="40" viewBox="0 0 40 40" ><path d="M3.6 9.7H21.2M3.6 19.6H36.6M3.6 29.7H21.2M29.6 12.5L36.9 19.6L29.6 26.8" fill="none" stroke="#343741" stroke-width="2.6" stroke-linecap="round" stroke-linejoin="round"/></svg>
</div>
</body></html>
